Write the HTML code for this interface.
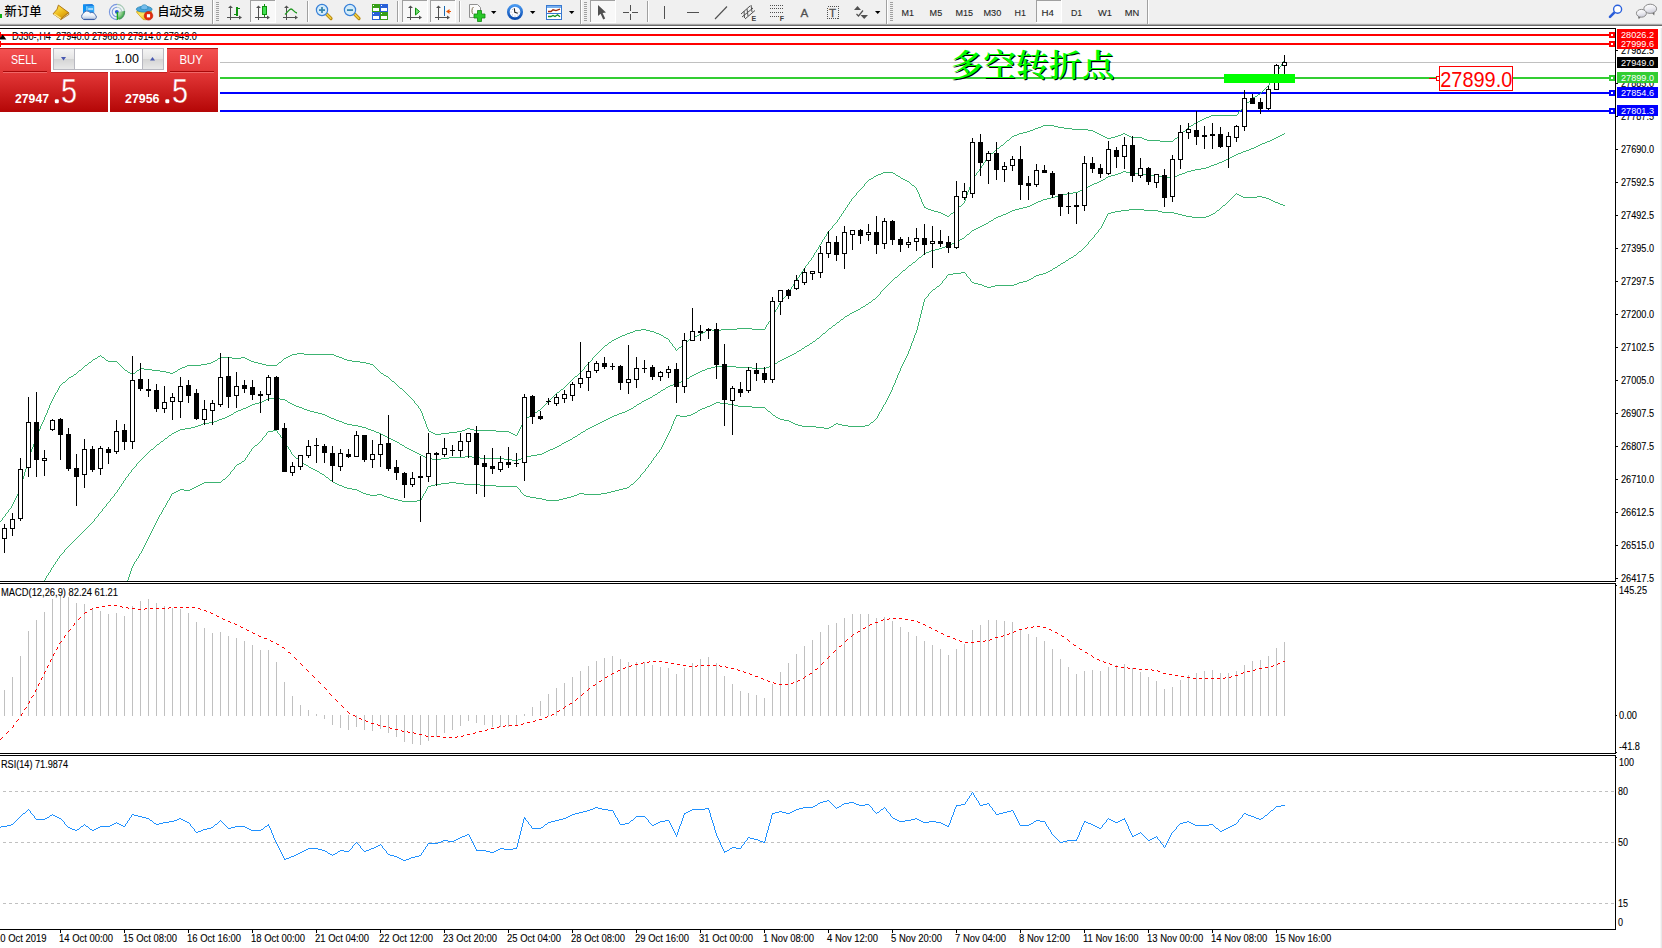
<!DOCTYPE html>
<html><head><meta charset="utf-8"><title>DJ30 H4</title>
<style>html,body{margin:0;padding:0;background:#fff;overflow:hidden}body{width:1662px;height:948px;position:relative}</style>
</head><body>
<svg width="1662" height="948" viewBox="0 0 1662 948" style="position:absolute;left:0;top:0">
<defs>
<linearGradient id="gs" gradientUnits="userSpaceOnUse" x1="0" y1="48" x2="0" y2="112"><stop offset="0" stop-color="#f45252"/><stop offset="0.45" stop-color="#de3232"/><stop offset="1" stop-color="#b40606"/></linearGradient>
<linearGradient id="gb" x1="0" y1="0" x2="0" y2="1"><stop offset="0" stop-color="#f4f4f4"/><stop offset="0.5" stop-color="#e4e4e4"/><stop offset="0.5" stop-color="#d4d4d4"/><stop offset="1" stop-color="#e8e8e8"/></linearGradient>
<linearGradient id="gold" x1="0.2" y1="0" x2="0.8" y2="1"><stop offset="0" stop-color="#ffe858"/><stop offset="0.55" stop-color="#ecb818"/><stop offset="1" stop-color="#c88808"/></linearGradient>
<radialGradient id="gsig" gradientUnits="userSpaceOnUse" cx="117" cy="12" r="7.6"><stop offset="0" stop-color="#e0f0dc"/><stop offset="0.6" stop-color="#90cc90"/><stop offset="1" stop-color="#38a840"/></radialGradient>
<linearGradient id="gface" x1="0" y1="0" x2="0.3" y2="1"><stop offset="0" stop-color="#f4cc28"/><stop offset="0.5" stop-color="#fbe868"/><stop offset="1" stop-color="#f0c020"/></linearGradient>
<linearGradient id="gchat" x1="0" y1="0" x2="0.3" y2="1"><stop offset="0" stop-color="#ffffff"/><stop offset="0.55" stop-color="#eeeef2"/><stop offset="1" stop-color="#d0d0dc"/></linearGradient>
<linearGradient id="gcloud" x1="0" y1="0" x2="0" y2="1"><stop offset="0" stop-color="#ffffff"/><stop offset="0.5" stop-color="#f0f4fa"/><stop offset="1" stop-color="#b4c4de"/></linearGradient>
<linearGradient id="gclk" x1="0" y1="0" x2="0" y2="1"><stop offset="0" stop-color="#4898f0"/><stop offset="1" stop-color="#0c4cb0"/></linearGradient>
<linearGradient id="gblue" x1="0" y1="0" x2="0" y2="1"><stop offset="0" stop-color="#58b8f8"/><stop offset="1" stop-color="#1868d8"/></linearGradient>
<linearGradient id="ggreen" x1="0" y1="0" x2="0" y2="1"><stop offset="0" stop-color="#60e060"/><stop offset="1" stop-color="#10a010"/></linearGradient>
<clipPath id="cpMain"><rect x="0" y="29" width="1615" height="552"/></clipPath>
</defs>
<rect x="0" y="0" width="1662" height="948" fill="#fff"/>
<g shape-rendering="crispEdges">
<rect x="1660" y="26" width="1" height="922" fill="#f6f6f6"/><rect x="1661" y="26" width="1" height="922" fill="#e8e8e8"/>
<rect x="0" y="28" width="1616" height="1" fill="#000"/>
<rect x="1615" y="28" width="1" height="902" fill="#000"/>
<rect x="0" y="581" width="1616" height="1" fill="#000"/>
<rect x="0" y="583" width="1616" height="1" fill="#000"/>
<rect x="0" y="753" width="1616" height="1" fill="#000"/>
<rect x="0" y="755" width="1616" height="1" fill="#000"/>
<rect x="0" y="582" width="1616" height="1" fill="#fff"/><rect x="0" y="754" width="1616" height="1" fill="#fff"/>
<rect x="0" y="929" width="1616" height="1" fill="#000"/>
<rect x="60" y="929" width="1" height="4" fill="#000"/>
<rect x="124" y="929" width="1" height="4" fill="#000"/>
<rect x="188" y="929" width="1" height="4" fill="#000"/>
<rect x="252" y="929" width="1" height="4" fill="#000"/>
<rect x="316" y="929" width="1" height="4" fill="#000"/>
<rect x="380" y="929" width="1" height="4" fill="#000"/>
<rect x="444" y="929" width="1" height="4" fill="#000"/>
<rect x="508" y="929" width="1" height="4" fill="#000"/>
<rect x="572" y="929" width="1" height="4" fill="#000"/>
<rect x="636" y="929" width="1" height="4" fill="#000"/>
<rect x="700" y="929" width="1" height="4" fill="#000"/>
<rect x="764" y="929" width="1" height="4" fill="#000"/>
<rect x="828" y="929" width="1" height="4" fill="#000"/>
<rect x="892" y="929" width="1" height="4" fill="#000"/>
<rect x="956" y="929" width="1" height="4" fill="#000"/>
<rect x="1020" y="929" width="1" height="4" fill="#000"/>
<rect x="1084" y="929" width="1" height="4" fill="#000"/>
<rect x="1148" y="929" width="1" height="4" fill="#000"/>
<rect x="1212" y="929" width="1" height="4" fill="#000"/>
<rect x="1276" y="929" width="1" height="4" fill="#000"/>
</g>
<g shape-rendering="crispEdges">
<rect x="220" y="62" width="1395" height="1" fill="#c0c0c0"/>
<rect x="220" y="77" width="1395" height="2" fill="#32cd32"/>
<rect x="220" y="92" width="1395" height="2" fill="#0000ff"/>
<rect x="220" y="110" width="1395" height="2" fill="#0000ff"/>
</g>
<g clip-path="url(#cpMain)" stroke-width="1">
<path d="M0 521.5h1M1 520.5h1M2.5 518v2M3 517.5h1M4 516.5h1M5.5 514v2M6 513.5h1M7 512.5h1M8.5 510v2M9 509.5h1M10 508.5h1M11.5 506v2M12.5 504v2M13.5 502v2M14.5 500v2M15.5 498v2M16.5 496v2M17.5 494v2M18.5 492v2M19.5 490v2M20.5 487v3M21.5 483v4M22.5 479v4M23.5 476v3M24.5 472v4M25.5 469v3M26.5 465v4M27.5 461v4M28.5 458v3M29.5 455v3M30.5 452v3M31.5 449v3M32.5 447v2M33.5 444v3M34.5 441v3M35.5 438v3M36.5 435v3M37.5 433v2M38.5 431v2M39.5 429v2M40.5 426v3M41.5 424v2M42.5 422v2M43.5 420v2M44.5 417v3M45.5 415v2M46.5 413v2M47.5 410v3M48.5 408v2M49.5 405v3M50.5 403v2M51.5 401v2M52.5 399v2M53.5 397v2M54.5 395v2M55.5 393v2M56 392.5h1M57.5 390v2M58.5 388v2M59.5 386v2M60 385.5h1M61 384.5h1M62 383.5h1M63 382.5h2M65 381.5h1M66 380.5h1M67 379.5h1M68 378.5h1M69 377.5h2M71 376.5h2M73 375.5h1M74 374.5h2M76 373.5h1M77 372.5h1M78 371.5h1M79 370.5h2M81 369.5h1M82 368.5h1M83 367.5h1M84 366.5h1M85 365.5h2M87 364.5h1M88 363.5h1M89 362.5h2M91 361.5h1M92 360.5h1M93 359.5h2M95 358.5h2M97 357.5h1M98 356.5h2M100 355.5h1M101 356.5h1M102 357.5h2M104 358.5h1M105 359.5h1M106 360.5h2M108 361.5h9M117 362.5h1M118 363.5h1M119 364.5h1M120 365.5h1M121 366.5h1M122 367.5h1M123 368.5h1M124 369.5h1M125 370.5h2M127 371.5h1M128 372.5h2M130 373.5h2M132 374.5h1M133 373.5h2M135 372.5h1M136 371.5h1M137 370.5h2M139 369.5h1M140 368.5h4M144 369.5h8M152 370.5h8M160 371.5h6M166 372.5h4M170 373.5h3M173 372.5h2M175 371.5h2M177 370.5h1M178 369.5h2M180 368.5h2M182 367.5h3M185 366.5h2M187 365.5h14M201 364.5h6M207 363.5h4M211 362.5h2M213 361.5h2M215 360.5h2M217 359.5h1M218 358.5h2M220 357.5h12M232 358.5h9M241 357.5h4M245 358.5h2M247 359.5h2M249 360.5h2M251 361.5h3M254 362.5h4M258 363.5h4M262 364.5h4M266 365.5h11M277 364.5h1M278 363.5h1M279 362.5h2M281 361.5h1M282 360.5h1M283 359.5h1M284 358.5h2M286 357.5h2M288 356.5h2M290 355.5h2M292 354.5h5M297 353.5h7M304 354.5h30M334 355.5h2M336 356.5h3M339 357.5h3M342 358.5h2M344 359.5h3M347 360.5h5M352 361.5h8M360 362.5h6M366 363.5h4M370 364.5h3M373 365.5h1M374 366.5h1M375 367.5h1M376 368.5h1M377 369.5h1M378 370.5h1M379 371.5h1M380 372.5h1M381 373.5h2M383 374.5h1M384 375.5h2M386 376.5h2M388 377.5h1M389 378.5h1M390 379.5h1M391 380.5h1M392 381.5h2M394 382.5h1M395 383.5h1M396 384.5h1M397 385.5h1M398 386.5h1M399 387.5h1M400 388.5h2M402 389.5h1M403 390.5h1M404 391.5h1M405 392.5h1M406 393.5h1M407 394.5h1M408 395.5h1M409 396.5h1M410 397.5h1M411 398.5h1M412 399.5h1M413 400.5h1M414.5 401v2M415 403.5h1M416 404.5h1M417 405.5h1M418.5 406v2M419 408.5h1M420.5 409v2M421.5 411v2M422.5 413v3M423.5 416v3M424.5 419v2M425.5 421v3M426.5 424v3M427.5 427v2M428.5 429v2M429 431.5h2M431 432.5h2M433 433.5h2M435 434.5h6M441 433.5h8M449 432.5h8M457 431.5h5M462 430.5h3M465 429.5h2M467 428.5h3M470 429.5h4M474 430.5h22M496 431.5h13M509 432.5h2M511 433.5h2M513 434.5h2M515 435.5h2M517.5 433v2M518.5 431v2M519.5 429v2M520.5 427v2M521.5 425v2M522.5 423v2M523.5 421v2M524.5 419v2M525 418.5h2M527 417.5h2M529 416.5h1M530 415.5h2M532 414.5h1M533 413.5h2M535 412.5h2M537 411.5h1M538 410.5h2M540 409.5h1M541 408.5h1M542 407.5h1M543 406.5h1M544 405.5h1M545 404.5h1M546 403.5h1M547 402.5h1M548 401.5h1M549 400.5h1M550 399.5h1M551 398.5h1M552 397.5h1M553 396.5h1M554 395.5h1M555 394.5h1M556 393.5h1M557 392.5h2M559 391.5h1M560 390.5h1M561 389.5h2M563 388.5h1M564 387.5h1M565 386.5h1M566 385.5h1M567 384.5h1M568 383.5h1M569 382.5h1M570 381.5h1M571 380.5h1M572 379.5h1M573 378.5h1M574 377.5h1M575 376.5h2M577 375.5h1M578 374.5h1M579 373.5h1M580 372.5h1M581 371.5h1M582 370.5h1M583 369.5h1M584.5 367v2M585 366.5h1M586 365.5h1M587 364.5h1M588 363.5h1M589 362.5h1M590 361.5h1M591 360.5h1M592.5 358v2M593 357.5h1M594 356.5h1M595 355.5h1M596 354.5h1M597 353.5h1M598 352.5h1M599 351.5h1M600 350.5h1M601 349.5h1M602 348.5h1M603 347.5h1M604 346.5h1M605 345.5h2M607 344.5h1M608 343.5h1M609 342.5h2M611 341.5h1M612 340.5h2M614 339.5h2M616 338.5h2M618 337.5h2M620 336.5h2M622 335.5h3M625 334.5h2M627 333.5h3M630 332.5h3M633 331.5h2M635 330.5h6M641 329.5h5M646 330.5h4M650 331.5h4M654 332.5h2M656 333.5h3M659 334.5h2M661 335.5h2M663 336.5h1M664 337.5h2M666 338.5h2M668 339.5h1M669.5 340v2M670 342.5h1M671 343.5h1M672.5 344v2M673 346.5h1M674 347.5h1M675.5 348v2M676 350.5h1M677 349.5h1M678 348.5h1M679 347.5h2M681 346.5h1M682 345.5h1M683 344.5h1M684 343.5h1M685 342.5h2M687 341.5h1M688 340.5h1M689 339.5h2M691 338.5h1M692 337.5h2M694 336.5h3M697 335.5h2M699 334.5h2M701 333.5h2M703 332.5h2M705 331.5h1M706 330.5h2M708 329.5h4M712 330.5h9M721 329.5h16M737 328.5h15M752 329.5h13M765.5 327v2M766.5 325v2M767 324.5h1M768.5 322v2M769 321.5h1M770.5 319v2M771.5 317v2M772 316.5h1M773.5 314v2M774.5 312v2M775.5 310v2M776 309.5h1M777.5 307v2M778.5 305v2M779.5 303v2M780 302.5h1M781 301.5h1M782.5 299v2M783 298.5h1M784 297.5h1M785 296.5h1M786.5 294v2M787 293.5h1M788 292.5h1M789.5 290v2M790 289.5h1M791.5 287v2M792 286.5h1M793.5 284v2M794 283.5h1M795.5 281v2M796 280.5h1M797.5 278v2M798 277.5h1M799.5 275v2M800 274.5h1M801.5 272v2M802 271.5h1M803.5 269v2M804 268.5h1M805.5 266v2M806 265.5h1M807 264.5h1M808.5 262v2M809 261.5h1M810 260.5h1M811.5 258v2M812 257.5h1M813.5 255v2M814.5 253v2M815 252.5h1M816.5 250v2M817 249.5h1M818.5 247v2M819.5 245v2M820 244.5h1M821.5 242v2M822.5 240v2M823 239.5h1M824.5 237v2M825 236.5h1M826.5 234v2M827.5 232v2M828 231.5h1M829 230.5h1M830 229.5h1M831 228.5h1M832.5 226v2M833 225.5h1M834 224.5h1M835 223.5h1M836 222.5h1M837.5 220v2M838 219.5h1M839.5 217v2M840 216.5h1M841.5 214v2M842 213.5h1M843.5 211v2M844 210.5h1M845.5 208v2M846 207.5h1M847.5 205v2M848 204.5h1M849.5 202v2M850 201.5h1M851.5 199v2M852 198.5h1M853 197.5h1M854 196.5h1M855 195.5h1M856.5 193v2M857 192.5h1M858 191.5h1M859 190.5h1M860 189.5h1M861 188.5h1M862 187.5h1M863 186.5h1M864.5 184v2M865 183.5h1M866 182.5h1M867 181.5h1M868 180.5h1M869 179.5h2M871 178.5h2M873 177.5h1M874 176.5h2M876 175.5h2M878 174.5h3M881 173.5h2M883 172.5h10M893 173.5h2M895 174.5h1M896 175.5h2M898 176.5h2M900 177.5h1M901 178.5h2M903 179.5h2M905 180.5h2M907 181.5h2M909 182.5h1M910 183.5h1M911 184.5h1M912 185.5h2M914 186.5h1M915 187.5h1M916.5 188v2M917.5 190v2M918.5 192v2M919.5 194v3M920.5 197v2M921.5 199v3M922.5 202v2M923.5 204v2M924.5 206v2M925 207.5h1M926 208.5h2M928 209.5h3M931 210.5h3M934 211.5h4M938 212.5h3M941 213.5h2M943 214.5h2M945 215.5h2M947 216.5h2M949 215.5h1M950 214.5h1M951 213.5h2M953 212.5h1M954 211.5h1M955 210.5h1M956 209.5h1M957 208.5h1M958 207.5h1M959 206.5h2M961 205.5h1M962 204.5h1M963 203.5h1M964.5 201v2M965.5 198v3M966.5 195v3M967.5 192v3M968.5 190v2M969.5 187v3M970.5 184v3M971.5 181v3M972.5 179v2M973.5 177v2M974 176.5h1M975 175.5h1M976.5 173v2M977 172.5h1M978 171.5h1M979.5 169v2M980 168.5h1M981.5 166v2M982 165.5h1M983.5 163v2M984 162.5h1M985.5 160v2M986 159.5h1M987.5 157v2M988 156.5h1M989 155.5h1M990 154.5h1M991 153.5h2M993 152.5h1M994 151.5h1M995 150.5h1M996 149.5h1M997 148.5h2M999 147.5h1M1000 146.5h1M1001 145.5h2M1003 144.5h1M1004 143.5h1M1005 142.5h1M1006 141.5h1M1007 140.5h2M1009 139.5h1M1010 138.5h1M1011 137.5h1M1012 136.5h2M1014 135.5h3M1017 134.5h2M1019 133.5h4M1023 132.5h4M1027 131.5h3M1030 130.5h3M1033 129.5h2M1035 128.5h3M1038 127.5h3M1041 126.5h2M1043 125.5h11M1054 126.5h4M1058 127.5h6M1064 128.5h8M1072 129.5h16M1088 130.5h5M1093 131.5h2M1095 132.5h2M1097 133.5h2M1099 134.5h2M1101 135.5h2M1103 136.5h2M1105 137.5h2M1107 138.5h4M1111 137.5h4M1115 136.5h3M1118 135.5h3M1121 134.5h2M1123 133.5h2M1125 134.5h2M1127 135.5h2M1129 136.5h2M1131 137.5h11M1142 138.5h2M1144 139.5h3M1147 140.5h13M1160 141.5h13M1173 140.5h1M1174 139.5h1M1175 138.5h2M1177 137.5h1M1178 136.5h1M1179 135.5h1M1180 134.5h1M1181 133.5h1M1182 132.5h1M1183 131.5h2M1185 130.5h1M1186 129.5h1M1187 128.5h1M1188 127.5h1M1189 126.5h2M1191 125.5h2M1193 124.5h1M1194 123.5h2M1196 122.5h2M1198 121.5h2M1200 120.5h2M1202 119.5h2M1204 118.5h2M1206 117.5h3M1209 116.5h2M1211 115.5h26M1237 114.5h1M1238.5 112v2M1239 111.5h1M1240 110.5h1M1241 109.5h1M1242.5 107v2M1243 106.5h1M1244 105.5h1M1245 104.5h1M1246 103.5h1M1247 102.5h2M1249 101.5h1M1250 100.5h1M1251 99.5h1M1252 98.5h1M1253 97.5h2M1255 96.5h2M1257 95.5h1M1258 94.5h2M1260 93.5h1M1261 92.5h1M1262 91.5h1M1263 90.5h1M1264 89.5h1M1265 88.5h1M1266 87.5h1M1267 86.5h1M1268 85.5h1M1269.5 83v2M1270.5 81v2M1271 80.5h1M1272.5 78v2M1273 77.5h1M1274.5 75v2M1275.5 73v2M1276 72.5h1M1277.5 70v2M1278 69.5h1M1279.5 67v2M1280 66.5h1M1281.5 64v2M1282 63.5h1M1283.5 61v2M1284 60.5h1" fill="none" stroke="#3cb371" stroke-width="1" shape-rendering="crispEdges" />
<path d="M44 580.5h1M45.5 578v2M46.5 576v2M47 575.5h1M48.5 573v2M49 572.5h1M50.5 570v2M51.5 568v2M52 567.5h1M53.5 565v2M54 564.5h1M55.5 562v2M56 561.5h1M57.5 559v2M58 558.5h1M59.5 556v2M60 555.5h1M61 554.5h1M62 553.5h1M63 552.5h1M64.5 550v2M65 549.5h1M66 548.5h1M67 547.5h1M68 546.5h1M69 545.5h1M70 544.5h1M71 543.5h1M72 542.5h1M73 541.5h1M74 540.5h1M75 539.5h1M76 538.5h1M77 537.5h1M78 536.5h1M79 535.5h1M80 534.5h1M81 533.5h1M82 532.5h1M83 531.5h1M84 530.5h1M85 529.5h1M86 528.5h1M87 527.5h1M88 526.5h1M89 525.5h1M90 524.5h1M91 523.5h1M92 522.5h1M93 521.5h1M94.5 519v2M95 518.5h1M96 517.5h1M97 516.5h1M98.5 514v2M99 513.5h1M100 512.5h1M101 511.5h1M102.5 509v2M103 508.5h1M104 507.5h1M105 506.5h1M106.5 504v2M107 503.5h1M108 502.5h1M109 501.5h1M110.5 499v2M111 498.5h1M112 497.5h1M113 496.5h1M114.5 494v2M115 493.5h1M116 492.5h1M117.5 490v2M118 489.5h1M119.5 487v2M120 486.5h1M121.5 484v2M122 483.5h1M123.5 481v2M124 480.5h1M125.5 478v2M126 477.5h1M127 476.5h1M128.5 474v2M129 473.5h1M130 472.5h1M131.5 470v2M132 469.5h1M133 468.5h1M134 467.5h1M135 466.5h1M136.5 464v2M137 463.5h1M138 462.5h1M139 461.5h1M140 460.5h1M141 459.5h1M142 458.5h1M143 457.5h1M144 456.5h1M145 455.5h1M146 454.5h1M147 453.5h1M148 452.5h1M149 451.5h1M150 450.5h1M151 449.5h2M153 448.5h1M154 447.5h1M155 446.5h1M156 445.5h1M157 444.5h2M159 443.5h1M160 442.5h1M161 441.5h2M163 440.5h1M164 439.5h1M165 438.5h2M167 437.5h1M168 436.5h1M169 435.5h2M171 434.5h1M172 433.5h2M174 432.5h2M176 431.5h2M178 430.5h2M180 429.5h5M185 428.5h6M191 427.5h4M195 426.5h3M198 425.5h3M201 424.5h2M203 423.5h6M209 422.5h5M214 421.5h3M217 420.5h2M219 419.5h3M222 418.5h3M225 417.5h2M227 416.5h2M229 415.5h2M231 414.5h2M233 413.5h1M234 412.5h2M236 411.5h2M238 410.5h3M241 409.5h2M243 408.5h3M246 407.5h2M248 406.5h2M250 405.5h2M252 404.5h3M255 403.5h4M259 402.5h3M262 401.5h2M264 400.5h2M266 399.5h2M268 398.5h12M280 399.5h5M285 400.5h2M287 401.5h1M288 402.5h2M290 403.5h2M292 404.5h2M294 405.5h2M296 406.5h3M299 407.5h3M302 408.5h2M304 409.5h3M307 410.5h3M310 411.5h4M314 412.5h4M318 413.5h4M322 414.5h3M325 415.5h2M327 416.5h2M329 417.5h2M331 418.5h3M334 419.5h2M336 420.5h3M339 421.5h3M342 422.5h2M344 423.5h3M347 424.5h5M352 425.5h6M358 426.5h4M362 427.5h4M366 428.5h2M368 429.5h3M371 430.5h3M374 431.5h2M376 432.5h3M379 433.5h2M381 434.5h2M383 435.5h2M385 436.5h2M387 437.5h2M389 438.5h2M391 439.5h2M393 440.5h2M395 441.5h2M397 442.5h2M399 443.5h1M400 444.5h2M402 445.5h2M404 446.5h1M405 447.5h2M407 448.5h2M409 449.5h2M411 450.5h2M413 451.5h2M415 452.5h2M417 453.5h2M419 454.5h2M421 455.5h2M423 456.5h2M425 457.5h2M427 458.5h5M432 459.5h9M441 458.5h8M449 457.5h16M465 456.5h7M472 457.5h8M480 458.5h24M504 459.5h8M512 460.5h6M518 459.5h3M521 458.5h2M523 457.5h4M527 456.5h4M531 455.5h6M537 454.5h5M542 453.5h2M544 452.5h2M546 451.5h2M548 450.5h2M550 449.5h3M553 448.5h2M555 447.5h2M557 446.5h2M559 445.5h2M561 444.5h1M562 443.5h2M564 442.5h2M566 441.5h2M568 440.5h2M570 439.5h2M572 438.5h1M573 437.5h2M575 436.5h2M577 435.5h1M578 434.5h2M580 433.5h1M581 432.5h2M583 431.5h2M585 430.5h1M586 429.5h2M588 428.5h2M590 427.5h2M592 426.5h2M594 425.5h2M596 424.5h2M598 423.5h2M600 422.5h2M602 421.5h2M604 420.5h2M606 419.5h2M608 418.5h2M610 417.5h2M612 416.5h2M614 415.5h3M617 414.5h2M619 413.5h3M622 412.5h3M625 411.5h2M627 410.5h2M629 409.5h2M631 408.5h2M633 407.5h1M634 406.5h2M636 405.5h1M637 404.5h2M639 403.5h2M641 402.5h1M642 401.5h2M644 400.5h2M646 399.5h2M648 398.5h2M650 397.5h2M652 396.5h1M653 395.5h2M655 394.5h2M657 393.5h1M658 392.5h2M660 391.5h1M661 390.5h2M663 389.5h2M665 388.5h1M666 387.5h2M668 386.5h2M670 385.5h3M673 384.5h2M675 383.5h3M678 382.5h3M681 381.5h2M683 380.5h2M685 379.5h2M687 378.5h2M689 377.5h1M690 376.5h2M692 375.5h2M694 374.5h2M696 373.5h2M698 372.5h2M700 371.5h2M702 370.5h3M705 369.5h2M707 368.5h4M711 367.5h4M715 366.5h21M736 367.5h16M752 368.5h14M766 367.5h3M769 366.5h2M771 365.5h2M773 364.5h2M775 363.5h2M777 362.5h1M778 361.5h2M780 360.5h2M782 359.5h2M784 358.5h2M786 357.5h2M788 356.5h2M790 355.5h2M792 354.5h2M794 353.5h2M796 352.5h1M797 351.5h2M799 350.5h2M801 349.5h1M802 348.5h2M804 347.5h1M805 346.5h2M807 345.5h2M809 344.5h1M810 343.5h2M812 342.5h1M813 341.5h2M815 340.5h1M816 339.5h1M817 338.5h2M819 337.5h1M820 336.5h1M821 335.5h1M822 334.5h1M823 333.5h2M825 332.5h1M826 331.5h1M827 330.5h1M828 329.5h1M829 328.5h2M831 327.5h1M832 326.5h1M833 325.5h2M835 324.5h1M836 323.5h1M837 322.5h2M839 321.5h1M840 320.5h1M841 319.5h2M843 318.5h1M844 317.5h1M845 316.5h2M847 315.5h2M849 314.5h1M850 313.5h2M852 312.5h2M854 311.5h2M856 310.5h2M858 309.5h2M860 308.5h1M861 307.5h2M863 306.5h2M865 305.5h1M866 304.5h2M868 303.5h1M869 302.5h2M871 301.5h1M872 300.5h1M873 299.5h2M875 298.5h1M876 297.5h1M877 296.5h1M878 295.5h1M879 294.5h1M880.5 292v2M881 291.5h1M882 290.5h1M883 289.5h1M884 288.5h1M885 287.5h1M886 286.5h1M887 285.5h1M888 284.5h1M889 283.5h1M890 282.5h1M891 281.5h1M892 280.5h1M893 279.5h1M894 278.5h1M895 277.5h2M897 276.5h1M898 275.5h1M899 274.5h1M900 273.5h1M901 272.5h1M902 271.5h1M903 270.5h2M905 269.5h1M906 268.5h1M907 267.5h1M908 266.5h1M909 265.5h2M911 264.5h1M912 263.5h1M913 262.5h2M915 261.5h1M916 260.5h1M917 259.5h1M918 258.5h1M919 257.5h2M921 256.5h1M922 255.5h1M923 254.5h1M924 253.5h2M926 252.5h3M929 251.5h2M931 250.5h4M935 249.5h4M939 248.5h3M942 247.5h3M945 246.5h2M947 245.5h3M950 244.5h2M952 243.5h2M954 242.5h2M956 241.5h2M958 240.5h2M960 239.5h2M962 238.5h2M964 237.5h1M965 236.5h1M966 235.5h1M967 234.5h2M969 233.5h1M970 232.5h1M971 231.5h1M972 230.5h2M974 229.5h2M976 228.5h2M978 227.5h2M980 226.5h2M982 225.5h2M984 224.5h2M986 223.5h2M988 222.5h1M989 221.5h2M991 220.5h2M993 219.5h1M994 218.5h2M996 217.5h2M998 216.5h3M1001 215.5h2M1003 214.5h3M1006 213.5h2M1008 212.5h2M1010 211.5h2M1012 210.5h3M1015 209.5h4M1019 208.5h4M1023 207.5h4M1027 206.5h3M1030 205.5h2M1032 204.5h2M1034 203.5h2M1036 202.5h2M1038 201.5h3M1041 200.5h2M1043 199.5h4M1047 198.5h4M1051 197.5h4M1055 196.5h4M1059 195.5h4M1063 194.5h4M1067 193.5h6M1073 192.5h5M1078 191.5h2M1080 190.5h2M1082 189.5h2M1084 188.5h2M1086 187.5h2M1088 186.5h2M1090 185.5h2M1092 184.5h2M1094 183.5h3M1097 182.5h2M1099 181.5h2M1101 180.5h2M1103 179.5h2M1105 178.5h1M1106 177.5h2M1108 176.5h3M1111 175.5h4M1115 174.5h3M1118 173.5h3M1121 172.5h2M1123 171.5h3M1126 172.5h4M1130 173.5h12M1142 174.5h4M1146 175.5h12M1158 176.5h4M1162 177.5h12M1174 176.5h3M1177 175.5h2M1179 174.5h3M1182 173.5h3M1185 172.5h2M1187 171.5h4M1191 170.5h4M1195 169.5h6M1201 168.5h5M1206 167.5h3M1209 166.5h2M1211 165.5h3M1214 164.5h3M1217 163.5h2M1219 162.5h3M1222 161.5h2M1224 160.5h2M1226 159.5h2M1228 158.5h2M1230 157.5h2M1232 156.5h2M1234 155.5h2M1236 154.5h2M1238 153.5h3M1241 152.5h2M1243 151.5h3M1246 150.5h3M1249 149.5h2M1251 148.5h3M1254 147.5h2M1256 146.5h2M1258 145.5h2M1260 144.5h2M1262 143.5h3M1265 142.5h2M1267 141.5h3M1270 140.5h2M1272 139.5h2M1274 138.5h2M1276 137.5h2M1278 136.5h2M1280 135.5h2M1282 134.5h2M1284 133.5h1" fill="none" stroke="#3cb371" stroke-width="1" shape-rendering="crispEdges" />
<path d="M127 580.5h1M128.5 577v3M129.5 574v3M130.5 571v3M131.5 568v3M132.5 566v2M133.5 564v2M134.5 562v2M135 561.5h1M136.5 559v2M137 558.5h1M138.5 556v2M139.5 554v2M140 553.5h1M141.5 551v2M142.5 549v2M143.5 547v2M144.5 545v2M145.5 543v2M146.5 541v2M147.5 539v2M148.5 537v2M149.5 535v2M150.5 533v2M151.5 531v2M152.5 529v2M153.5 527v2M154.5 525v2M155.5 523v2M156.5 521v2M157.5 519v2M158.5 517v2M159.5 515v2M160 514.5h1M161.5 512v2M162.5 510v2M163.5 508v2M164 507.5h1M165.5 505v2M166.5 503v2M167.5 501v2M168 500.5h1M169.5 498v2M170.5 496v2M171.5 494v2M172 493.5h2M174 492.5h2M176 491.5h2M178 490.5h2M180 489.5h4M184 490.5h6M190 489.5h2M192 488.5h2M194 487.5h2M196 486.5h2M198 485.5h2M200 484.5h2M202 483.5h2M204 482.5h17M221 481.5h1M222 480.5h1M223 479.5h2M225 478.5h1M226 477.5h1M227 476.5h1M228 475.5h1M229 474.5h1M230.5 472v2M231 471.5h1M232 470.5h1M233 469.5h1M234.5 467v2M235 466.5h1M236 465.5h1M237 464.5h2M239 463.5h2M241 462.5h1M242 461.5h2M244 460.5h1M245.5 458v2M246 457.5h1M247.5 455v2M248 454.5h1M249.5 452v2M250 451.5h1M251.5 449v2M252 448.5h1M253 447.5h1M254 446.5h1M255 445.5h2M257 444.5h1M258 443.5h1M259 442.5h1M260 441.5h1M261 440.5h1M262.5 438v2M263 437.5h1M264 436.5h1M265 435.5h1M266.5 433v2M267 432.5h1M268 431.5h5M273 430.5h4M277.5 431v2M278 433.5h1M279 434.5h1M280.5 435v2M281 437.5h1M282 438.5h1M283.5 439v2M284 441.5h1M285.5 442v2M286.5 444v2M287 446.5h1M288.5 447v2M289 449.5h1M290.5 450v2M291.5 452v2M292 454.5h1M293 455.5h1M294 456.5h1M295 457.5h1M296 458.5h2M298 459.5h1M299 460.5h1M300 461.5h1M301 462.5h2M303 463.5h1M304 464.5h2M306 465.5h2M308 466.5h1M309 467.5h2M311 468.5h2M313 469.5h2M315 470.5h2M317 471.5h2M319 472.5h1M320 473.5h2M322 474.5h2M324 475.5h1M325 476.5h1M326 477.5h2M328 478.5h1M329 479.5h1M330 480.5h2M332 481.5h1M333 482.5h2M335 483.5h2M337 484.5h2M339 485.5h3M342 486.5h2M344 487.5h3M347 488.5h5M352 489.5h5M357 490.5h2M359 491.5h2M361 492.5h2M363 493.5h3M366 494.5h4M370 495.5h7M377 494.5h5M382 495.5h2M384 496.5h3M387 497.5h3M390 498.5h4M394 499.5h4M398 500.5h4M402 501.5h15M417 500.5h4M421.5 498v2M422.5 496v2M423.5 494v2M424 493.5h1M425.5 491v2M426.5 489v2M427.5 487v2M428 486.5h3M431 485.5h4M435 484.5h6M441 483.5h8M449 482.5h7M456 483.5h8M464 484.5h16M480 485.5h16M496 486.5h21M517 487.5h1M518 488.5h1M519 489.5h1M520.5 490v2M521 492.5h1M522 493.5h1M523 494.5h1M524 495.5h2M526 496.5h4M530 497.5h6M536 498.5h6M542 499.5h4M546 500.5h13M559 499.5h4M563 498.5h4M567 497.5h4M571 496.5h3M574 495.5h3M577 494.5h2M579 493.5h5M584 494.5h17M601 493.5h6M607 492.5h4M611 491.5h4M615 490.5h4M619 489.5h4M623 488.5h4M627 487.5h2M629 486.5h1M630 485.5h1M631 484.5h2M633 483.5h1M634 482.5h1M635 481.5h1M636 480.5h1M637 479.5h1M638 478.5h1M639 477.5h1M640.5 475v2M641 474.5h1M642 473.5h1M643 472.5h1M644 471.5h1M645.5 469v2M646 468.5h1M647 467.5h1M648.5 465v2M649 464.5h1M650 463.5h1M651.5 461v2M652 460.5h1M653.5 458v2M654 457.5h1M655 456.5h1M656.5 454v2M657 453.5h1M658 452.5h1M659.5 450v2M660 449.5h1M661.5 447v2M662.5 445v2M663.5 443v2M664.5 441v2M665.5 439v2M666.5 437v2M667.5 435v2M668.5 433v2M669.5 431v2M670.5 429v2M671.5 426v3M672.5 424v2M673.5 421v3M674.5 419v2M675.5 417v2M676.5 415v2M677 415.5h3M680 416.5h7M687 415.5h4M691 414.5h2M693 413.5h2M695 412.5h2M697 411.5h1M698 410.5h2M700 409.5h2M702 408.5h3M705 407.5h2M707 406.5h3M710 405.5h2M712 404.5h2M714 403.5h2M716 402.5h4M720 403.5h8M728 404.5h6M734 405.5h4M738 406.5h14M752 407.5h13M765 408.5h1M766 409.5h1M767 410.5h1M768 411.5h2M770 412.5h1M771 413.5h1M772 414.5h1M773 415.5h2M775 416.5h1M776 417.5h2M778 418.5h2M780 419.5h4M784 420.5h5M789 421.5h2M791 422.5h2M793 423.5h2M795 424.5h3M798 425.5h4M802 426.5h14M816 427.5h8M824 428.5h5M829 427.5h2M831 426.5h2M833 425.5h1M834 424.5h2M836 423.5h2M838 424.5h4M842 425.5h6M848 426.5h17M865 425.5h4M869 424.5h1M870 423.5h1M871 422.5h2M873 421.5h1M874 420.5h1M875 419.5h1M876 418.5h1M877.5 416v2M878.5 414v2M879.5 412v2M880 411.5h1M881.5 409v2M882.5 407v2M883.5 405v2M884 404.5h1M885.5 402v2M886.5 400v2M887.5 398v2M888.5 396v2M889.5 394v2M890.5 392v2M891.5 390v2M892.5 387v3M893.5 385v2M894.5 383v2M895.5 380v3M896.5 378v2M897.5 375v3M898.5 373v2M899.5 371v2M900.5 368v3M901.5 366v2M902.5 364v2M903.5 362v2M904.5 360v2M905.5 358v2M906.5 356v2M907.5 354v2M908.5 351v3M909.5 349v2M910.5 346v3M911.5 343v3M912.5 341v2M913.5 338v3M914.5 335v3M915.5 333v2M916.5 330v3M917.5 326v4M918.5 322v4M919.5 318v4M920.5 314v4M921.5 310v4M922.5 306v4M923.5 302v4M924.5 299v3M925 298.5h1M926 297.5h1M927 296.5h1M928.5 294v2M929 293.5h1M930 292.5h1M931 291.5h1M932 290.5h1M933 289.5h2M935 288.5h1M936 287.5h1M937 286.5h2M939 285.5h1M940 284.5h1M941 283.5h1M942.5 281v2M943 280.5h1M944 279.5h1M945 278.5h1M946.5 276v2M947 275.5h1M948 274.5h5M953 273.5h8M961 272.5h4M965 273.5h1M966.5 274v2M967 276.5h1M968 277.5h1M969 278.5h1M970.5 279v2M971 281.5h1M972 282.5h2M974 283.5h4M978 284.5h4M982 285.5h2M984 286.5h3M987 287.5h4M991 286.5h4M995 285.5h19M1014 284.5h3M1017 283.5h2M1019 282.5h4M1023 281.5h4M1027 280.5h2M1029 279.5h2M1031 278.5h2M1033 277.5h1M1034 276.5h2M1036 275.5h3M1039 274.5h4M1043 273.5h3M1046 272.5h2M1048 271.5h2M1050 270.5h2M1052 269.5h1M1053 268.5h2M1055 267.5h2M1057 266.5h1M1058 265.5h2M1060 264.5h1M1061 263.5h2M1063 262.5h2M1065 261.5h1M1066 260.5h2M1068 259.5h1M1069 258.5h2M1071 257.5h2M1073 256.5h1M1074 255.5h2M1076 254.5h1M1077 253.5h1M1078 252.5h1M1079 251.5h2M1081 250.5h1M1082 249.5h1M1083 248.5h1M1084 247.5h1M1085 246.5h1M1086 245.5h1M1087 244.5h1M1088.5 242v2M1089 241.5h1M1090 240.5h1M1091 239.5h1M1092 238.5h1M1093 237.5h1M1094.5 235v2M1095 234.5h1M1096 233.5h1M1097 232.5h1M1098.5 230v2M1099 229.5h1M1100 228.5h1M1101.5 226v2M1102.5 224v2M1103.5 222v2M1104.5 220v2M1105.5 218v2M1106.5 216v2M1107.5 214v2M1108 213.5h3M1111 212.5h4M1115 211.5h6M1121 210.5h8M1129 209.5h15M1144 210.5h14M1158 211.5h4M1162 212.5h12M1174 213.5h4M1178 214.5h4M1182 215.5h4M1186 216.5h6M1192 217.5h14M1206 216.5h3M1209 215.5h2M1211 214.5h2M1213 213.5h2M1215 212.5h1M1216 211.5h1M1217 210.5h2M1219 209.5h1M1220 208.5h1M1221 207.5h1M1222 206.5h1M1223 205.5h2M1225 204.5h1M1226 203.5h1M1227 202.5h1M1228 201.5h1M1229 200.5h1M1230 199.5h1M1231 198.5h1M1232 197.5h1M1233 196.5h1M1234 195.5h1M1235 194.5h1M1236 193.5h1M1237 194.5h2M1239 195.5h2M1241 196.5h2M1243 197.5h14M1257 196.5h5M1262 197.5h4M1266 198.5h3M1269 199.5h2M1271 200.5h2M1273 201.5h2M1275 202.5h3M1278 203.5h2M1280 204.5h3M1283 205.5h2" fill="none" stroke="#3cb371" stroke-width="1" shape-rendering="crispEdges" />
</g>
<g shape-rendering="crispEdges">
<rect x="4" y="524" width="1" height="29" fill="#000"/>
<rect x="2" y="528" width="5" height="11" fill="#000"/>
<rect x="3" y="529" width="3" height="9" fill="#fff"/>
<rect x="12" y="513" width="1" height="23" fill="#000"/>
<rect x="10" y="519" width="5" height="10" fill="#000"/>
<rect x="11" y="520" width="3" height="8" fill="#fff"/>
<rect x="20" y="458" width="1" height="63" fill="#000"/>
<rect x="18" y="469" width="5" height="50" fill="#000"/>
<rect x="19" y="470" width="3" height="48" fill="#fff"/>
<rect x="28" y="397" width="1" height="80" fill="#000"/>
<rect x="26" y="422" width="5" height="46" fill="#000"/>
<rect x="27" y="423" width="3" height="44" fill="#fff"/>
<rect x="36" y="392" width="1" height="85" fill="#000"/>
<rect x="34" y="422" width="5" height="38" fill="#000"/>
<rect x="44" y="450" width="1" height="26" fill="#000"/>
<rect x="42" y="458" width="5" height="3" fill="#000"/>
<rect x="43" y="459" width="3" height="1" fill="#fff"/>
<rect x="52" y="419" width="1" height="12" fill="#000"/>
<rect x="50" y="420" width="5" height="10" fill="#000"/>
<rect x="51" y="421" width="3" height="8" fill="#fff"/>
<rect x="60" y="418" width="1" height="42" fill="#000"/>
<rect x="58" y="419" width="5" height="16" fill="#000"/>
<rect x="68" y="428" width="1" height="43" fill="#000"/>
<rect x="66" y="434" width="5" height="35" fill="#000"/>
<rect x="76" y="454" width="1" height="52" fill="#000"/>
<rect x="74" y="468" width="5" height="9" fill="#000"/>
<rect x="84" y="439" width="1" height="49" fill="#000"/>
<rect x="82" y="449" width="5" height="26" fill="#000"/>
<rect x="83" y="450" width="3" height="24" fill="#fff"/>
<rect x="92" y="446" width="1" height="26" fill="#000"/>
<rect x="90" y="449" width="5" height="21" fill="#000"/>
<rect x="100" y="446" width="1" height="29" fill="#000"/>
<rect x="98" y="448" width="5" height="21" fill="#000"/>
<rect x="99" y="449" width="3" height="19" fill="#fff"/>
<rect x="108" y="447" width="1" height="17" fill="#000"/>
<rect x="106" y="449" width="5" height="4" fill="#000"/>
<rect x="116" y="420" width="1" height="34" fill="#000"/>
<rect x="114" y="431" width="5" height="21" fill="#000"/>
<rect x="115" y="432" width="3" height="19" fill="#fff"/>
<rect x="124" y="424" width="1" height="26" fill="#000"/>
<rect x="122" y="430" width="5" height="12" fill="#000"/>
<rect x="132" y="356" width="1" height="93" fill="#000"/>
<rect x="130" y="380" width="5" height="62" fill="#000"/>
<rect x="131" y="381" width="3" height="60" fill="#fff"/>
<rect x="140" y="363" width="1" height="28" fill="#000"/>
<rect x="138" y="379" width="5" height="10" fill="#000"/>
<rect x="148" y="379" width="1" height="18" fill="#000"/>
<rect x="146" y="389" width="5" height="2" fill="#000"/>
<rect x="156" y="384" width="1" height="28" fill="#000"/>
<rect x="154" y="390" width="5" height="19" fill="#000"/>
<rect x="164" y="386" width="1" height="27" fill="#000"/>
<rect x="162" y="402" width="5" height="7" fill="#000"/>
<rect x="163" y="403" width="3" height="5" fill="#fff"/>
<rect x="172" y="393" width="1" height="27" fill="#000"/>
<rect x="170" y="397" width="5" height="5" fill="#000"/>
<rect x="171" y="398" width="3" height="3" fill="#fff"/>
<rect x="180" y="377" width="1" height="41" fill="#000"/>
<rect x="178" y="386" width="5" height="16" fill="#000"/>
<rect x="179" y="387" width="3" height="14" fill="#fff"/>
<rect x="188" y="380" width="1" height="23" fill="#000"/>
<rect x="186" y="385" width="5" height="11" fill="#000"/>
<rect x="196" y="389" width="1" height="31" fill="#000"/>
<rect x="194" y="393" width="5" height="26" fill="#000"/>
<rect x="204" y="400" width="1" height="25" fill="#000"/>
<rect x="202" y="409" width="5" height="11" fill="#000"/>
<rect x="203" y="410" width="3" height="9" fill="#fff"/>
<rect x="212" y="400" width="1" height="25" fill="#000"/>
<rect x="210" y="403" width="5" height="8" fill="#000"/>
<rect x="211" y="404" width="3" height="6" fill="#fff"/>
<rect x="220" y="353" width="1" height="54" fill="#000"/>
<rect x="218" y="377" width="5" height="28" fill="#000"/>
<rect x="219" y="378" width="3" height="26" fill="#fff"/>
<rect x="228" y="357" width="1" height="51" fill="#000"/>
<rect x="226" y="376" width="5" height="21" fill="#000"/>
<rect x="236" y="372" width="1" height="36" fill="#000"/>
<rect x="234" y="386" width="5" height="10" fill="#000"/>
<rect x="235" y="387" width="3" height="8" fill="#fff"/>
<rect x="244" y="380" width="1" height="13" fill="#000"/>
<rect x="242" y="385" width="5" height="4" fill="#000"/>
<rect x="252" y="380" width="1" height="20" fill="#000"/>
<rect x="250" y="387" width="5" height="8" fill="#000"/>
<rect x="260" y="391" width="1" height="22" fill="#000"/>
<rect x="258" y="394" width="5" height="2" fill="#000"/>
<rect x="268" y="375" width="1" height="26" fill="#000"/>
<rect x="266" y="377" width="5" height="18" fill="#000"/>
<rect x="267" y="378" width="3" height="16" fill="#fff"/>
<rect x="276" y="376" width="1" height="54" fill="#000"/>
<rect x="274" y="377" width="5" height="53" fill="#000"/>
<rect x="284" y="423" width="1" height="49" fill="#000"/>
<rect x="282" y="428" width="5" height="44" fill="#000"/>
<rect x="292" y="462" width="1" height="14" fill="#000"/>
<rect x="290" y="466" width="5" height="7" fill="#000"/>
<rect x="291" y="467" width="3" height="5" fill="#fff"/>
<rect x="300" y="455" width="1" height="15" fill="#000"/>
<rect x="298" y="455" width="5" height="12" fill="#000"/>
<rect x="299" y="456" width="3" height="10" fill="#fff"/>
<rect x="308" y="440" width="1" height="18" fill="#000"/>
<rect x="306" y="446" width="5" height="10" fill="#000"/>
<rect x="307" y="447" width="3" height="8" fill="#fff"/>
<rect x="316" y="438" width="1" height="25" fill="#000"/>
<rect x="314" y="445" width="5" height="1" fill="#000"/>
<rect x="324" y="444" width="1" height="19" fill="#000"/>
<rect x="322" y="446" width="5" height="7" fill="#000"/>
<rect x="332" y="446" width="1" height="36" fill="#000"/>
<rect x="330" y="453" width="5" height="13" fill="#000"/>
<rect x="340" y="449" width="1" height="22" fill="#000"/>
<rect x="338" y="453" width="5" height="14" fill="#000"/>
<rect x="339" y="454" width="3" height="12" fill="#fff"/>
<rect x="348" y="449" width="1" height="9" fill="#000"/>
<rect x="346" y="454" width="5" height="3" fill="#000"/>
<rect x="356" y="431" width="1" height="26" fill="#000"/>
<rect x="354" y="435" width="5" height="22" fill="#000"/>
<rect x="355" y="436" width="3" height="20" fill="#fff"/>
<rect x="364" y="435" width="1" height="27" fill="#000"/>
<rect x="362" y="435" width="5" height="25" fill="#000"/>
<rect x="372" y="440" width="1" height="28" fill="#000"/>
<rect x="370" y="454" width="5" height="6" fill="#000"/>
<rect x="371" y="455" width="3" height="4" fill="#fff"/>
<rect x="380" y="434" width="1" height="33" fill="#000"/>
<rect x="378" y="444" width="5" height="11" fill="#000"/>
<rect x="379" y="445" width="3" height="9" fill="#fff"/>
<rect x="388" y="415" width="1" height="56" fill="#000"/>
<rect x="386" y="443" width="5" height="26" fill="#000"/>
<rect x="396" y="460" width="1" height="20" fill="#000"/>
<rect x="394" y="467" width="5" height="6" fill="#000"/>
<rect x="404" y="472" width="1" height="26" fill="#000"/>
<rect x="402" y="473" width="5" height="12" fill="#000"/>
<rect x="412" y="472" width="1" height="15" fill="#000"/>
<rect x="410" y="478" width="5" height="7" fill="#000"/>
<rect x="411" y="479" width="3" height="5" fill="#fff"/>
<rect x="420" y="456" width="1" height="66" fill="#000"/>
<rect x="418" y="476" width="5" height="2" fill="#000"/>
<rect x="428" y="433" width="1" height="49" fill="#000"/>
<rect x="426" y="453" width="5" height="24" fill="#000"/>
<rect x="427" y="454" width="3" height="22" fill="#fff"/>
<rect x="436" y="452" width="1" height="34" fill="#000"/>
<rect x="434" y="453" width="5" height="2" fill="#000"/>
<rect x="444" y="438" width="1" height="19" fill="#000"/>
<rect x="442" y="448" width="5" height="7" fill="#000"/>
<rect x="443" y="449" width="3" height="5" fill="#fff"/>
<rect x="452" y="445" width="1" height="11" fill="#000"/>
<rect x="450" y="450" width="5" height="1" fill="#000"/>
<rect x="460" y="433" width="1" height="24" fill="#000"/>
<rect x="458" y="441" width="5" height="10" fill="#000"/>
<rect x="459" y="442" width="3" height="8" fill="#fff"/>
<rect x="468" y="433" width="1" height="25" fill="#000"/>
<rect x="466" y="433" width="5" height="9" fill="#000"/>
<rect x="467" y="434" width="3" height="7" fill="#fff"/>
<rect x="476" y="426" width="1" height="68" fill="#000"/>
<rect x="474" y="433" width="5" height="32" fill="#000"/>
<rect x="484" y="455" width="1" height="42" fill="#000"/>
<rect x="482" y="463" width="5" height="4" fill="#000"/>
<rect x="492" y="448" width="1" height="26" fill="#000"/>
<rect x="490" y="466" width="5" height="3" fill="#000"/>
<rect x="500" y="456" width="1" height="16" fill="#000"/>
<rect x="498" y="462" width="5" height="8" fill="#000"/>
<rect x="499" y="463" width="3" height="6" fill="#fff"/>
<rect x="508" y="447" width="1" height="21" fill="#000"/>
<rect x="506" y="462" width="5" height="3" fill="#000"/>
<rect x="516" y="453" width="1" height="14" fill="#000"/>
<rect x="514" y="463" width="5" height="1" fill="#000"/>
<rect x="524" y="394" width="1" height="87" fill="#000"/>
<rect x="522" y="397" width="5" height="66" fill="#000"/>
<rect x="523" y="398" width="3" height="64" fill="#fff"/>
<rect x="532" y="395" width="1" height="29" fill="#000"/>
<rect x="530" y="396" width="5" height="21" fill="#000"/>
<rect x="540" y="411" width="1" height="9" fill="#000"/>
<rect x="538" y="416" width="5" height="3" fill="#000"/>
<rect x="548" y="398" width="1" height="7" fill="#000"/>
<rect x="546" y="401" width="5" height="1" fill="#000"/>
<rect x="556" y="394" width="1" height="12" fill="#000"/>
<rect x="554" y="397" width="5" height="7" fill="#000"/>
<rect x="555" y="398" width="3" height="5" fill="#fff"/>
<rect x="564" y="390" width="1" height="13" fill="#000"/>
<rect x="562" y="394" width="5" height="5" fill="#000"/>
<rect x="563" y="395" width="3" height="3" fill="#fff"/>
<rect x="572" y="382" width="1" height="19" fill="#000"/>
<rect x="570" y="384" width="5" height="12" fill="#000"/>
<rect x="571" y="385" width="3" height="10" fill="#fff"/>
<rect x="580" y="342" width="1" height="46" fill="#000"/>
<rect x="578" y="378" width="5" height="6" fill="#000"/>
<rect x="579" y="379" width="3" height="4" fill="#fff"/>
<rect x="588" y="362" width="1" height="29" fill="#000"/>
<rect x="586" y="371" width="5" height="7" fill="#000"/>
<rect x="587" y="372" width="3" height="5" fill="#fff"/>
<rect x="596" y="361" width="1" height="12" fill="#000"/>
<rect x="594" y="363" width="5" height="8" fill="#000"/>
<rect x="595" y="364" width="3" height="6" fill="#fff"/>
<rect x="604" y="357" width="1" height="12" fill="#000"/>
<rect x="602" y="363" width="5" height="4" fill="#000"/>
<rect x="612" y="363" width="1" height="7" fill="#000"/>
<rect x="610" y="366" width="5" height="1" fill="#000"/>
<rect x="620" y="365" width="1" height="25" fill="#000"/>
<rect x="618" y="366" width="5" height="17" fill="#000"/>
<rect x="628" y="345" width="1" height="49" fill="#000"/>
<rect x="626" y="379" width="5" height="4" fill="#000"/>
<rect x="627" y="380" width="3" height="2" fill="#fff"/>
<rect x="636" y="357" width="1" height="31" fill="#000"/>
<rect x="634" y="368" width="5" height="12" fill="#000"/>
<rect x="635" y="369" width="3" height="10" fill="#fff"/>
<rect x="644" y="360" width="1" height="13" fill="#000"/>
<rect x="642" y="368" width="5" height="1" fill="#000"/>
<rect x="652" y="365" width="1" height="15" fill="#000"/>
<rect x="650" y="367" width="5" height="10" fill="#000"/>
<rect x="660" y="371" width="1" height="10" fill="#000"/>
<rect x="658" y="372" width="5" height="5" fill="#000"/>
<rect x="659" y="373" width="3" height="3" fill="#fff"/>
<rect x="668" y="366" width="1" height="12" fill="#000"/>
<rect x="666" y="369" width="5" height="4" fill="#000"/>
<rect x="667" y="370" width="3" height="2" fill="#fff"/>
<rect x="676" y="363" width="1" height="40" fill="#000"/>
<rect x="674" y="369" width="5" height="18" fill="#000"/>
<rect x="684" y="333" width="1" height="60" fill="#000"/>
<rect x="682" y="340" width="5" height="47" fill="#000"/>
<rect x="683" y="341" width="3" height="45" fill="#fff"/>
<rect x="692" y="308" width="1" height="33" fill="#000"/>
<rect x="690" y="331" width="5" height="10" fill="#000"/>
<rect x="691" y="332" width="3" height="8" fill="#fff"/>
<rect x="700" y="325" width="1" height="16" fill="#000"/>
<rect x="698" y="331" width="5" height="2" fill="#000"/>
<rect x="708" y="328" width="1" height="11" fill="#000"/>
<rect x="706" y="329" width="5" height="2" fill="#000"/>
<rect x="716" y="323" width="1" height="56" fill="#000"/>
<rect x="714" y="329" width="5" height="36" fill="#000"/>
<rect x="724" y="344" width="1" height="82" fill="#000"/>
<rect x="722" y="364" width="5" height="36" fill="#000"/>
<rect x="732" y="386" width="1" height="49" fill="#000"/>
<rect x="730" y="388" width="5" height="13" fill="#000"/>
<rect x="731" y="389" width="3" height="11" fill="#fff"/>
<rect x="740" y="382" width="1" height="15" fill="#000"/>
<rect x="738" y="389" width="5" height="4" fill="#000"/>
<rect x="748" y="367" width="1" height="26" fill="#000"/>
<rect x="746" y="370" width="5" height="21" fill="#000"/>
<rect x="747" y="371" width="3" height="19" fill="#fff"/>
<rect x="756" y="363" width="1" height="18" fill="#000"/>
<rect x="754" y="370" width="5" height="4" fill="#000"/>
<rect x="764" y="367" width="1" height="16" fill="#000"/>
<rect x="762" y="373" width="5" height="7" fill="#000"/>
<rect x="772" y="297" width="1" height="86" fill="#000"/>
<rect x="770" y="301" width="5" height="79" fill="#000"/>
<rect x="771" y="302" width="3" height="77" fill="#fff"/>
<rect x="780" y="290" width="1" height="25" fill="#000"/>
<rect x="778" y="290" width="5" height="12" fill="#000"/>
<rect x="779" y="291" width="3" height="10" fill="#fff"/>
<rect x="788" y="289" width="1" height="10" fill="#000"/>
<rect x="786" y="290" width="5" height="6" fill="#000"/>
<rect x="796" y="275" width="1" height="15" fill="#000"/>
<rect x="794" y="280" width="5" height="9" fill="#000"/>
<rect x="795" y="281" width="3" height="7" fill="#fff"/>
<rect x="804" y="268" width="1" height="17" fill="#000"/>
<rect x="802" y="272" width="5" height="11" fill="#000"/>
<rect x="803" y="273" width="3" height="9" fill="#fff"/>
<rect x="812" y="271" width="1" height="9" fill="#000"/>
<rect x="810" y="271" width="5" height="3" fill="#000"/>
<rect x="811" y="272" width="3" height="1" fill="#fff"/>
<rect x="820" y="246" width="1" height="32" fill="#000"/>
<rect x="818" y="253" width="5" height="20" fill="#000"/>
<rect x="819" y="254" width="3" height="18" fill="#fff"/>
<rect x="828" y="231" width="1" height="27" fill="#000"/>
<rect x="826" y="242" width="5" height="12" fill="#000"/>
<rect x="827" y="243" width="3" height="10" fill="#fff"/>
<rect x="836" y="236" width="1" height="25" fill="#000"/>
<rect x="834" y="242" width="5" height="13" fill="#000"/>
<rect x="844" y="226" width="1" height="43" fill="#000"/>
<rect x="842" y="232" width="5" height="22" fill="#000"/>
<rect x="843" y="233" width="3" height="20" fill="#fff"/>
<rect x="852" y="230" width="1" height="20" fill="#000"/>
<rect x="850" y="230" width="5" height="5" fill="#000"/>
<rect x="851" y="231" width="3" height="3" fill="#fff"/>
<rect x="860" y="229" width="1" height="15" fill="#000"/>
<rect x="858" y="230" width="5" height="6" fill="#000"/>
<rect x="868" y="224" width="1" height="17" fill="#000"/>
<rect x="866" y="232" width="5" height="3" fill="#000"/>
<rect x="867" y="233" width="3" height="1" fill="#fff"/>
<rect x="876" y="216" width="1" height="38" fill="#000"/>
<rect x="874" y="232" width="5" height="13" fill="#000"/>
<rect x="884" y="218" width="1" height="31" fill="#000"/>
<rect x="882" y="221" width="5" height="23" fill="#000"/>
<rect x="883" y="222" width="3" height="21" fill="#fff"/>
<rect x="892" y="220" width="1" height="25" fill="#000"/>
<rect x="890" y="221" width="5" height="19" fill="#000"/>
<rect x="900" y="237" width="1" height="15" fill="#000"/>
<rect x="898" y="239" width="5" height="6" fill="#000"/>
<rect x="908" y="237" width="1" height="11" fill="#000"/>
<rect x="906" y="242" width="5" height="3" fill="#000"/>
<rect x="907" y="243" width="3" height="1" fill="#fff"/>
<rect x="916" y="228" width="1" height="23" fill="#000"/>
<rect x="914" y="238" width="5" height="4" fill="#000"/>
<rect x="915" y="239" width="3" height="2" fill="#fff"/>
<rect x="924" y="224" width="1" height="31" fill="#000"/>
<rect x="922" y="238" width="5" height="7" fill="#000"/>
<rect x="932" y="226" width="1" height="42" fill="#000"/>
<rect x="930" y="241" width="5" height="3" fill="#000"/>
<rect x="931" y="242" width="3" height="1" fill="#fff"/>
<rect x="940" y="230" width="1" height="17" fill="#000"/>
<rect x="938" y="241" width="5" height="3" fill="#000"/>
<rect x="948" y="236" width="1" height="17" fill="#000"/>
<rect x="946" y="242" width="5" height="6" fill="#000"/>
<rect x="956" y="181" width="1" height="68" fill="#000"/>
<rect x="954" y="196" width="5" height="52" fill="#000"/>
<rect x="955" y="197" width="3" height="50" fill="#fff"/>
<rect x="964" y="183" width="1" height="17" fill="#000"/>
<rect x="962" y="191" width="5" height="7" fill="#000"/>
<rect x="963" y="192" width="3" height="5" fill="#fff"/>
<rect x="972" y="138" width="1" height="60" fill="#000"/>
<rect x="970" y="142" width="5" height="52" fill="#000"/>
<rect x="971" y="143" width="3" height="50" fill="#fff"/>
<rect x="980" y="134" width="1" height="42" fill="#000"/>
<rect x="978" y="142" width="5" height="21" fill="#000"/>
<rect x="988" y="151" width="1" height="33" fill="#000"/>
<rect x="986" y="153" width="5" height="8" fill="#000"/>
<rect x="987" y="154" width="3" height="6" fill="#fff"/>
<rect x="996" y="142" width="1" height="38" fill="#000"/>
<rect x="994" y="153" width="5" height="17" fill="#000"/>
<rect x="1004" y="162" width="1" height="20" fill="#000"/>
<rect x="1002" y="166" width="5" height="4" fill="#000"/>
<rect x="1003" y="167" width="3" height="2" fill="#fff"/>
<rect x="1012" y="156" width="1" height="15" fill="#000"/>
<rect x="1010" y="159" width="5" height="7" fill="#000"/>
<rect x="1011" y="160" width="3" height="5" fill="#fff"/>
<rect x="1020" y="146" width="1" height="54" fill="#000"/>
<rect x="1018" y="159" width="5" height="26" fill="#000"/>
<rect x="1028" y="176" width="1" height="24" fill="#000"/>
<rect x="1026" y="183" width="5" height="3" fill="#000"/>
<rect x="1036" y="164" width="1" height="23" fill="#000"/>
<rect x="1034" y="170" width="5" height="15" fill="#000"/>
<rect x="1035" y="171" width="3" height="13" fill="#fff"/>
<rect x="1044" y="165" width="1" height="8" fill="#000"/>
<rect x="1042" y="170" width="5" height="3" fill="#000"/>
<rect x="1052" y="171" width="1" height="27" fill="#000"/>
<rect x="1050" y="173" width="5" height="22" fill="#000"/>
<rect x="1060" y="194" width="1" height="22" fill="#000"/>
<rect x="1058" y="194" width="5" height="13" fill="#000"/>
<rect x="1068" y="192" width="1" height="22" fill="#000"/>
<rect x="1066" y="206" width="5" height="1" fill="#000"/>
<rect x="1076" y="193" width="1" height="31" fill="#000"/>
<rect x="1074" y="205" width="5" height="2" fill="#000"/>
<rect x="1084" y="156" width="1" height="55" fill="#000"/>
<rect x="1082" y="163" width="5" height="43" fill="#000"/>
<rect x="1083" y="164" width="3" height="41" fill="#fff"/>
<rect x="1092" y="157" width="1" height="16" fill="#000"/>
<rect x="1090" y="163" width="5" height="6" fill="#000"/>
<rect x="1100" y="164" width="1" height="14" fill="#000"/>
<rect x="1098" y="168" width="5" height="6" fill="#000"/>
<rect x="1108" y="141" width="1" height="34" fill="#000"/>
<rect x="1106" y="149" width="5" height="25" fill="#000"/>
<rect x="1107" y="150" width="3" height="23" fill="#fff"/>
<rect x="1116" y="147" width="1" height="21" fill="#000"/>
<rect x="1114" y="150" width="5" height="7" fill="#000"/>
<rect x="1124" y="137" width="1" height="32" fill="#000"/>
<rect x="1122" y="145" width="5" height="12" fill="#000"/>
<rect x="1123" y="146" width="3" height="10" fill="#fff"/>
<rect x="1132" y="136" width="1" height="46" fill="#000"/>
<rect x="1130" y="145" width="5" height="31" fill="#000"/>
<rect x="1140" y="158" width="1" height="20" fill="#000"/>
<rect x="1138" y="168" width="5" height="8" fill="#000"/>
<rect x="1139" y="169" width="3" height="6" fill="#fff"/>
<rect x="1148" y="167" width="1" height="18" fill="#000"/>
<rect x="1146" y="168" width="5" height="14" fill="#000"/>
<rect x="1156" y="174" width="1" height="14" fill="#000"/>
<rect x="1154" y="174" width="5" height="9" fill="#000"/>
<rect x="1155" y="175" width="3" height="7" fill="#fff"/>
<rect x="1164" y="169" width="1" height="38" fill="#000"/>
<rect x="1162" y="175" width="5" height="23" fill="#000"/>
<rect x="1172" y="155" width="1" height="47" fill="#000"/>
<rect x="1170" y="159" width="5" height="38" fill="#000"/>
<rect x="1171" y="160" width="3" height="36" fill="#fff"/>
<rect x="1180" y="125" width="1" height="44" fill="#000"/>
<rect x="1178" y="132" width="5" height="28" fill="#000"/>
<rect x="1179" y="133" width="3" height="26" fill="#fff"/>
<rect x="1188" y="123" width="1" height="16" fill="#000"/>
<rect x="1186" y="129" width="5" height="4" fill="#000"/>
<rect x="1187" y="130" width="3" height="2" fill="#fff"/>
<rect x="1196" y="111" width="1" height="34" fill="#000"/>
<rect x="1194" y="130" width="5" height="7" fill="#000"/>
<rect x="1204" y="126" width="1" height="23" fill="#000"/>
<rect x="1202" y="135" width="5" height="2" fill="#000"/>
<rect x="1212" y="123" width="1" height="26" fill="#000"/>
<rect x="1210" y="134" width="5" height="2" fill="#000"/>
<rect x="1220" y="127" width="1" height="21" fill="#000"/>
<rect x="1218" y="134" width="5" height="13" fill="#000"/>
<rect x="1228" y="132" width="1" height="36" fill="#000"/>
<rect x="1226" y="136" width="5" height="11" fill="#000"/>
<rect x="1227" y="137" width="3" height="9" fill="#fff"/>
<rect x="1236" y="125" width="1" height="17" fill="#000"/>
<rect x="1234" y="126" width="5" height="12" fill="#000"/>
<rect x="1235" y="127" width="3" height="10" fill="#fff"/>
<rect x="1244" y="90" width="1" height="41" fill="#000"/>
<rect x="1242" y="98" width="5" height="29" fill="#000"/>
<rect x="1243" y="99" width="3" height="27" fill="#fff"/>
<rect x="1252" y="94" width="1" height="10" fill="#000"/>
<rect x="1250" y="98" width="5" height="6" fill="#000"/>
<rect x="1260" y="98" width="1" height="16" fill="#000"/>
<rect x="1258" y="102" width="5" height="7" fill="#000"/>
<rect x="1268" y="86" width="1" height="24" fill="#000"/>
<rect x="1266" y="89" width="5" height="20" fill="#000"/>
<rect x="1267" y="90" width="3" height="18" fill="#fff"/>
<rect x="1276" y="64" width="1" height="26" fill="#000"/>
<rect x="1274" y="65" width="5" height="25" fill="#000"/>
<rect x="1275" y="66" width="3" height="23" fill="#fff"/>
<rect x="1284" y="55" width="1" height="19" fill="#000"/>
<rect x="1282" y="62" width="5" height="4" fill="#000"/>
<rect x="1283" y="63" width="3" height="2" fill="#fff"/>
</g>
<rect x="1224" y="74" width="71" height="9" fill="#00ff00" shape-rendering="crispEdges"/>
<g shape-rendering="crispEdges">
<rect x="4" y="690" width="1" height="26" fill="#c0c0c0"/>
<rect x="12" y="677" width="1" height="39" fill="#c0c0c0"/>
<rect x="20" y="656" width="1" height="60" fill="#c0c0c0"/>
<rect x="28" y="631" width="1" height="85" fill="#c0c0c0"/>
<rect x="36" y="620" width="1" height="96" fill="#c0c0c0"/>
<rect x="44" y="612" width="1" height="104" fill="#c0c0c0"/>
<rect x="52" y="599" width="1" height="117" fill="#c0c0c0"/>
<rect x="60" y="596" width="1" height="120" fill="#c0c0c0"/>
<rect x="68" y="597" width="1" height="119" fill="#c0c0c0"/>
<rect x="76" y="603" width="1" height="113" fill="#c0c0c0"/>
<rect x="84" y="604" width="1" height="112" fill="#c0c0c0"/>
<rect x="92" y="609" width="1" height="107" fill="#c0c0c0"/>
<rect x="100" y="611" width="1" height="105" fill="#c0c0c0"/>
<rect x="108" y="614" width="1" height="102" fill="#c0c0c0"/>
<rect x="116" y="613" width="1" height="103" fill="#c0c0c0"/>
<rect x="124" y="616" width="1" height="100" fill="#c0c0c0"/>
<rect x="132" y="606" width="1" height="110" fill="#c0c0c0"/>
<rect x="140" y="601" width="1" height="115" fill="#c0c0c0"/>
<rect x="148" y="599" width="1" height="117" fill="#c0c0c0"/>
<rect x="156" y="603" width="1" height="113" fill="#c0c0c0"/>
<rect x="164" y="606" width="1" height="110" fill="#c0c0c0"/>
<rect x="172" y="608" width="1" height="108" fill="#c0c0c0"/>
<rect x="180" y="609" width="1" height="107" fill="#c0c0c0"/>
<rect x="188" y="613" width="1" height="103" fill="#c0c0c0"/>
<rect x="196" y="622" width="1" height="94" fill="#c0c0c0"/>
<rect x="204" y="628" width="1" height="88" fill="#c0c0c0"/>
<rect x="212" y="633" width="1" height="83" fill="#c0c0c0"/>
<rect x="220" y="632" width="1" height="84" fill="#c0c0c0"/>
<rect x="228" y="636" width="1" height="80" fill="#c0c0c0"/>
<rect x="236" y="638" width="1" height="78" fill="#c0c0c0"/>
<rect x="244" y="641" width="1" height="75" fill="#c0c0c0"/>
<rect x="252" y="645" width="1" height="71" fill="#c0c0c0"/>
<rect x="260" y="650" width="1" height="66" fill="#c0c0c0"/>
<rect x="268" y="650" width="1" height="66" fill="#c0c0c0"/>
<rect x="276" y="662" width="1" height="54" fill="#c0c0c0"/>
<rect x="284" y="682" width="1" height="34" fill="#c0c0c0"/>
<rect x="292" y="696" width="1" height="20" fill="#c0c0c0"/>
<rect x="300" y="705" width="1" height="11" fill="#c0c0c0"/>
<rect x="308" y="710" width="1" height="6" fill="#c0c0c0"/>
<rect x="316" y="714" width="1" height="2" fill="#c0c0c0"/>
<rect x="324" y="715" width="1" height="4" fill="#c0c0c0"/>
<rect x="332" y="715" width="1" height="10" fill="#c0c0c0"/>
<rect x="340" y="715" width="1" height="13" fill="#c0c0c0"/>
<rect x="348" y="715" width="1" height="15" fill="#c0c0c0"/>
<rect x="356" y="715" width="1" height="12" fill="#c0c0c0"/>
<rect x="364" y="715" width="1" height="15" fill="#c0c0c0"/>
<rect x="372" y="715" width="1" height="16" fill="#c0c0c0"/>
<rect x="380" y="715" width="1" height="14" fill="#c0c0c0"/>
<rect x="388" y="715" width="1" height="18" fill="#c0c0c0"/>
<rect x="396" y="715" width="1" height="22" fill="#c0c0c0"/>
<rect x="404" y="715" width="1" height="27" fill="#c0c0c0"/>
<rect x="412" y="715" width="1" height="29" fill="#c0c0c0"/>
<rect x="420" y="715" width="1" height="30" fill="#c0c0c0"/>
<rect x="428" y="715" width="1" height="26" fill="#c0c0c0"/>
<rect x="436" y="715" width="1" height="22" fill="#c0c0c0"/>
<rect x="444" y="715" width="1" height="18" fill="#c0c0c0"/>
<rect x="452" y="715" width="1" height="15" fill="#c0c0c0"/>
<rect x="460" y="715" width="1" height="11" fill="#c0c0c0"/>
<rect x="468" y="715" width="1" height="6" fill="#c0c0c0"/>
<rect x="476" y="715" width="1" height="8" fill="#c0c0c0"/>
<rect x="484" y="715" width="1" height="10" fill="#c0c0c0"/>
<rect x="492" y="715" width="1" height="12" fill="#c0c0c0"/>
<rect x="500" y="715" width="1" height="12" fill="#c0c0c0"/>
<rect x="508" y="715" width="1" height="12" fill="#c0c0c0"/>
<rect x="516" y="715" width="1" height="11" fill="#c0c0c0"/>
<rect x="524" y="714" width="1" height="2" fill="#c0c0c0"/>
<rect x="532" y="707" width="1" height="9" fill="#c0c0c0"/>
<rect x="540" y="701" width="1" height="15" fill="#c0c0c0"/>
<rect x="548" y="694" width="1" height="22" fill="#c0c0c0"/>
<rect x="556" y="688" width="1" height="28" fill="#c0c0c0"/>
<rect x="564" y="683" width="1" height="33" fill="#c0c0c0"/>
<rect x="572" y="677" width="1" height="39" fill="#c0c0c0"/>
<rect x="580" y="671" width="1" height="45" fill="#c0c0c0"/>
<rect x="588" y="666" width="1" height="50" fill="#c0c0c0"/>
<rect x="596" y="661" width="1" height="55" fill="#c0c0c0"/>
<rect x="604" y="658" width="1" height="58" fill="#c0c0c0"/>
<rect x="612" y="656" width="1" height="60" fill="#c0c0c0"/>
<rect x="620" y="659" width="1" height="57" fill="#c0c0c0"/>
<rect x="628" y="662" width="1" height="54" fill="#c0c0c0"/>
<rect x="636" y="662" width="1" height="54" fill="#c0c0c0"/>
<rect x="644" y="662" width="1" height="54" fill="#c0c0c0"/>
<rect x="652" y="665" width="1" height="51" fill="#c0c0c0"/>
<rect x="660" y="667" width="1" height="49" fill="#c0c0c0"/>
<rect x="668" y="668" width="1" height="48" fill="#c0c0c0"/>
<rect x="676" y="674" width="1" height="42" fill="#c0c0c0"/>
<rect x="684" y="668" width="1" height="48" fill="#c0c0c0"/>
<rect x="692" y="663" width="1" height="53" fill="#c0c0c0"/>
<rect x="700" y="659" width="1" height="57" fill="#c0c0c0"/>
<rect x="708" y="657" width="1" height="59" fill="#c0c0c0"/>
<rect x="716" y="663" width="1" height="53" fill="#c0c0c0"/>
<rect x="724" y="676" width="1" height="40" fill="#c0c0c0"/>
<rect x="732" y="684" width="1" height="32" fill="#c0c0c0"/>
<rect x="740" y="691" width="1" height="25" fill="#c0c0c0"/>
<rect x="748" y="693" width="1" height="23" fill="#c0c0c0"/>
<rect x="756" y="695" width="1" height="21" fill="#c0c0c0"/>
<rect x="764" y="698" width="1" height="18" fill="#c0c0c0"/>
<rect x="772" y="684" width="1" height="32" fill="#c0c0c0"/>
<rect x="780" y="672" width="1" height="44" fill="#c0c0c0"/>
<rect x="788" y="663" width="1" height="53" fill="#c0c0c0"/>
<rect x="796" y="654" width="1" height="62" fill="#c0c0c0"/>
<rect x="804" y="646" width="1" height="70" fill="#c0c0c0"/>
<rect x="812" y="640" width="1" height="76" fill="#c0c0c0"/>
<rect x="820" y="632" width="1" height="84" fill="#c0c0c0"/>
<rect x="828" y="625" width="1" height="91" fill="#c0c0c0"/>
<rect x="836" y="623" width="1" height="93" fill="#c0c0c0"/>
<rect x="844" y="618" width="1" height="98" fill="#c0c0c0"/>
<rect x="852" y="614" width="1" height="102" fill="#c0c0c0"/>
<rect x="860" y="614" width="1" height="102" fill="#c0c0c0"/>
<rect x="868" y="614" width="1" height="102" fill="#c0c0c0"/>
<rect x="876" y="618" width="1" height="98" fill="#c0c0c0"/>
<rect x="884" y="617" width="1" height="99" fill="#c0c0c0"/>
<rect x="892" y="621" width="1" height="95" fill="#c0c0c0"/>
<rect x="900" y="627" width="1" height="89" fill="#c0c0c0"/>
<rect x="908" y="632" width="1" height="84" fill="#c0c0c0"/>
<rect x="916" y="636" width="1" height="80" fill="#c0c0c0"/>
<rect x="924" y="641" width="1" height="75" fill="#c0c0c0"/>
<rect x="932" y="645" width="1" height="71" fill="#c0c0c0"/>
<rect x="940" y="649" width="1" height="67" fill="#c0c0c0"/>
<rect x="948" y="655" width="1" height="61" fill="#c0c0c0"/>
<rect x="956" y="649" width="1" height="67" fill="#c0c0c0"/>
<rect x="964" y="644" width="1" height="72" fill="#c0c0c0"/>
<rect x="972" y="630" width="1" height="86" fill="#c0c0c0"/>
<rect x="980" y="625" width="1" height="91" fill="#c0c0c0"/>
<rect x="988" y="620" width="1" height="96" fill="#c0c0c0"/>
<rect x="996" y="620" width="1" height="96" fill="#c0c0c0"/>
<rect x="1004" y="621" width="1" height="95" fill="#c0c0c0"/>
<rect x="1012" y="622" width="1" height="94" fill="#c0c0c0"/>
<rect x="1020" y="629" width="1" height="87" fill="#c0c0c0"/>
<rect x="1028" y="634" width="1" height="82" fill="#c0c0c0"/>
<rect x="1036" y="637" width="1" height="79" fill="#c0c0c0"/>
<rect x="1044" y="641" width="1" height="75" fill="#c0c0c0"/>
<rect x="1052" y="649" width="1" height="67" fill="#c0c0c0"/>
<rect x="1060" y="659" width="1" height="57" fill="#c0c0c0"/>
<rect x="1068" y="667" width="1" height="49" fill="#c0c0c0"/>
<rect x="1076" y="674" width="1" height="42" fill="#c0c0c0"/>
<rect x="1084" y="671" width="1" height="45" fill="#c0c0c0"/>
<rect x="1092" y="670" width="1" height="46" fill="#c0c0c0"/>
<rect x="1100" y="671" width="1" height="45" fill="#c0c0c0"/>
<rect x="1108" y="667" width="1" height="49" fill="#c0c0c0"/>
<rect x="1116" y="665" width="1" height="51" fill="#c0c0c0"/>
<rect x="1124" y="664" width="1" height="52" fill="#c0c0c0"/>
<rect x="1132" y="668" width="1" height="48" fill="#c0c0c0"/>
<rect x="1140" y="672" width="1" height="44" fill="#c0c0c0"/>
<rect x="1148" y="677" width="1" height="39" fill="#c0c0c0"/>
<rect x="1156" y="681" width="1" height="35" fill="#c0c0c0"/>
<rect x="1164" y="689" width="1" height="27" fill="#c0c0c0"/>
<rect x="1172" y="687" width="1" height="29" fill="#c0c0c0"/>
<rect x="1180" y="680" width="1" height="36" fill="#c0c0c0"/>
<rect x="1188" y="675" width="1" height="41" fill="#c0c0c0"/>
<rect x="1196" y="673" width="1" height="43" fill="#c0c0c0"/>
<rect x="1204" y="671" width="1" height="45" fill="#c0c0c0"/>
<rect x="1212" y="670" width="1" height="46" fill="#c0c0c0"/>
<rect x="1220" y="673" width="1" height="43" fill="#c0c0c0"/>
<rect x="1228" y="673" width="1" height="43" fill="#c0c0c0"/>
<rect x="1236" y="671" width="1" height="45" fill="#c0c0c0"/>
<rect x="1244" y="665" width="1" height="51" fill="#c0c0c0"/>
<rect x="1252" y="661" width="1" height="55" fill="#c0c0c0"/>
<rect x="1260" y="660" width="1" height="56" fill="#c0c0c0"/>
<rect x="1268" y="656" width="1" height="60" fill="#c0c0c0"/>
<rect x="1276" y="648" width="1" height="68" fill="#c0c0c0"/>
<rect x="1284" y="642" width="1" height="74" fill="#c0c0c0"/>
</g>
<path d="M0 739.5h1M1 738.5h1M2 737.5h1M6 733.5h1M7 732.5h1M8 731.5h1M12 727.5h1M13.5 725v2M16 721.5h1M17 720.5h1M18 719.5h1M21.5 714v2M22 713.5h1M24 709.5h1M25 708.5h1M26 707.5h1M28 703.5h1M29.5 701v2M31 697.5h1M32 696.5h1M33 695.5h1M35.5 690v2M36 689.5h1M38.5 684v2M39 683.5h1M41.5 678v2M42 677.5h1M44.5 672v2M45 671.5h1M47.5 666v2M48 665.5h1M50.5 660v2M51 659.5h1M53.5 654v2M54 653.5h1M56 649.5h1M57.5 647v2M59 643.5h1M60 642.5h1M61 641.5h1M64.5 636v2M65 635.5h1M68 631.5h1M69 630.5h1M70 629.5h1M73 625.5h1M74.5 623v2M78 619.5h1M79 618.5h1M80 617.5h1M84 613.5h1M85 612.5h2M90 609.5h2M92 608.5h1M96 607.5h3M102 606.5h3M108 605.5h3M114 605.5h3M120 606.5h2M122 607.5h1M126 607.5h2M128 608.5h1M132 608.5h3M138 609.5h3M144 609.5h1M145 608.5h2M150 608.5h3M156 608.5h3M162 608.5h3M168 608.5h1M169 607.5h2M174 607.5h3M180 607.5h3M186 607.5h3M192 607.5h3M198 608.5h2M200 609.5h1M204 610.5h2M206 611.5h1M210 612.5h1M211 613.5h2M216 615.5h1M217 616.5h2M222 618.5h1M223 619.5h2M228 621.5h2M230 622.5h1M234 623.5h1M235 624.5h2M240 626.5h1M241 627.5h2M246 629.5h1M247 630.5h2M252 632.5h1M253 633.5h2M258 635.5h1M259 636.5h2M264 638.5h3M270 640.5h1M271 641.5h2M276 643.5h1M277 644.5h2M282 647.5h2M284 648.5h1M288 652.5h2M290 653.5h1M294 657.5h1M295 658.5h1M296 659.5h1M300 663.5h1M301 664.5h1M302 665.5h1M306 669.5h1M307 670.5h1M308 671.5h1M312 675.5h1M313 676.5h1M314 677.5h1M318 681.5h1M319 682.5h1M320 683.5h1M324 687.5h1M325 688.5h1M326 689.5h1M329 693.5h1M330 694.5h1M331 695.5h1M335 699.5h1M336 700.5h1M337 701.5h1M341 705.5h1M342 706.5h1M343 707.5h1M347 711.5h1M348 712.5h1M349 713.5h1M353 715.5h2M355 716.5h1M359 718.5h2M361 719.5h1M365 720.5h1M366 721.5h2M371 723.5h3M377 724.5h1M378 725.5h2M383 726.5h3M389 727.5h1M390 728.5h2M395 729.5h3M401 730.5h1M402 731.5h2M407 731.5h1M408 732.5h2M413 732.5h1M414 733.5h2M419 734.5h3M425 735.5h1M426 736.5h2M431 736.5h3M437 736.5h3M443 737.5h3M449 737.5h3M455 737.5h2M457 736.5h1M461 736.5h2M463 735.5h1M467 734.5h3M473 733.5h2M475 732.5h1M479 731.5h3M485 730.5h2M487 729.5h1M491 728.5h3M497 727.5h2M499 726.5h1M503 726.5h2M505 725.5h1M509 725.5h3M515 725.5h3M521 724.5h2M523 723.5h1M527 722.5h3M533 721.5h2M535 720.5h1M539 719.5h3M545 717.5h2M547 716.5h1M551 715.5h1M552 714.5h2M557 711.5h2M559 710.5h1M563 708.5h1M564 707.5h1M565 706.5h1M569 704.5h1M570 703.5h2M575 700.5h1M576 699.5h1M577 698.5h1M581 695.5h1M582 694.5h1M583 693.5h1M587 690.5h1M588 689.5h1M589 688.5h1M593 685.5h2M595 684.5h1M599 681.5h2M601 680.5h1M605 677.5h2M607 676.5h1M611 674.5h1M612 673.5h2M617 671.5h1M618 670.5h2M623 668.5h2M625 667.5h1M629 666.5h2M631 665.5h1M635 664.5h3M641 663.5h2M643 662.5h1M647 662.5h2M649 661.5h1M653 661.5h3M659 661.5h3M665 662.5h3M671 663.5h3M677 664.5h3M683 665.5h3M689 666.5h3M695 666.5h2M697 665.5h1M701 665.5h3M707 665.5h3M713 665.5h3M719 665.5h1M720 666.5h2M725 666.5h1M726 667.5h2M731 668.5h3M737 669.5h1M738 670.5h2M743 671.5h1M744 672.5h2M749 673.5h1M750 674.5h2M755 676.5h3M761 678.5h2M763 679.5h1M767 680.5h1M768 681.5h2M773 682.5h1M774 683.5h2M779 684.5h3M785 684.5h3M791 683.5h2M793 682.5h1M797 681.5h1M798 680.5h2M803 678.5h1M804 677.5h1M805 676.5h1M809 674.5h1M810 673.5h2M815 669.5h2M817 668.5h1M821 664.5h1M822 663.5h1M823 662.5h1M827 658.5h1M828 657.5h1M829 656.5h1M833 652.5h1M834 651.5h1M835 650.5h1M839 646.5h2M841 645.5h1M845 641.5h1M846 640.5h1M847 639.5h1M851 636.5h1M852 635.5h1M853 634.5h1M857 632.5h1M858 631.5h2M863 628.5h2M865 627.5h1M869 625.5h1M870 624.5h2M875 622.5h3M881 620.5h2M883 619.5h1M887 619.5h2M889 618.5h1M893 618.5h3M899 618.5h3M905 619.5h3M911 620.5h3M917 621.5h1M918 622.5h2M923 624.5h2M925 625.5h1M929 627.5h2M931 628.5h1M935 630.5h2M937 631.5h1M941 633.5h2M943 634.5h1M947 636.5h3M953 638.5h2M955 639.5h1M959 640.5h1M960 641.5h2M965 642.5h3M971 642.5h3M977 641.5h3M983 641.5h2M985 640.5h1M989 640.5h1M990 639.5h2M995 637.5h3M1001 636.5h2M1003 635.5h1M1007 634.5h2M1009 633.5h1M1013 632.5h1M1014 631.5h2M1019 629.5h3M1025 628.5h2M1027 627.5h1M1031 627.5h2M1033 626.5h1M1037 626.5h3M1043 627.5h3M1049 629.5h2M1051 630.5h1M1055 632.5h2M1057 633.5h1M1061 635.5h1M1062 636.5h2M1067 639.5h1M1068 640.5h1M1069 641.5h1M1073 644.5h1M1074 645.5h2M1079 648.5h1M1080 649.5h2M1085 652.5h2M1087 653.5h1M1091 655.5h1M1092 656.5h1M1093 657.5h1M1097 659.5h2M1099 660.5h1M1103 661.5h1M1104 662.5h2M1109 663.5h1M1110 664.5h2M1115 666.5h3M1121 667.5h3M1127 667.5h1M1128 668.5h2M1133 668.5h3M1139 669.5h3M1145 669.5h3M1151 669.5h1M1152 670.5h2M1157 670.5h1M1158 671.5h2M1163 673.5h3M1169 674.5h3M1175 675.5h3M1181 676.5h3M1187 677.5h3M1193 678.5h3M1199 678.5h3M1205 678.5h3M1211 678.5h3M1217 678.5h3M1223 678.5h2M1225 677.5h1M1229 677.5h2M1231 676.5h1M1235 675.5h3M1241 673.5h2M1243 672.5h1M1247 671.5h3M1253 670.5h2M1255 669.5h1M1259 668.5h3M1265 667.5h3M1271 666.5h2M1273 665.5h1M1277 664.5h1M1278 663.5h2M1283 661.5h2" fill="none" stroke="#ff0000" stroke-width="1" shape-rendering="crispEdges" />
<g shape-rendering="crispEdges">
<line x1="3" y1="791.5" x2="1615" y2="791.5" stroke="#c0c0c0" stroke-dasharray="3 3"/>
<line x1="3" y1="842.5" x2="1615" y2="842.5" stroke="#c0c0c0" stroke-dasharray="3 3"/>
<line x1="3" y1="903.5" x2="1615" y2="903.5" stroke="#c0c0c0" stroke-dasharray="3 3"/>
</g>
<path d="M0 827.5h1M1 826.5h6M7 825.5h4M11 824.5h2M13 823.5h1M14 822.5h1M15 821.5h1M16 820.5h1M17 819.5h1M18 818.5h1M19 817.5h1M20 816.5h1M21 815.5h1M22 814.5h1M23 813.5h2M25 812.5h1M26 811.5h1M27 810.5h1M28 809.5h1M29 810.5h1M30.5 811v2M31 813.5h1M32 814.5h1M33 815.5h1M34.5 816v2M35 818.5h1M36 819.5h9M45 818.5h2M47 817.5h2M49 816.5h1M50 815.5h2M52 814.5h1M53 815.5h2M55 816.5h2M57 817.5h2M59 818.5h2M61 819.5h1M62 820.5h1M63 821.5h1M64.5 822v2M65 824.5h1M66 825.5h1M67 826.5h1M68 827.5h2M70 828.5h2M72 829.5h3M75 830.5h2M77 829.5h2M79 828.5h1M80 827.5h1M81 826.5h2M83 825.5h1M84 824.5h1M85 825.5h1M86 826.5h2M88 827.5h1M89 828.5h1M90 829.5h2M92 830.5h2M94 829.5h2M96 828.5h2M98 827.5h2M100 826.5h10M110 825.5h2M112 824.5h2M114 823.5h2M116 822.5h1M117 823.5h2M119 824.5h2M121 825.5h2M123 826.5h2M125.5 824v2M126 823.5h1M127.5 821v2M128 820.5h1M129.5 818v2M130 817.5h1M131.5 815v2M132 814.5h2M134 815.5h4M138 816.5h4M142 817.5h4M146 818.5h3M149 819.5h1M150 820.5h2M152 821.5h1M153 822.5h1M154 823.5h2M156 824.5h3M159 823.5h4M163 822.5h6M169 821.5h5M174 820.5h3M177 819.5h2M179 818.5h2M181 819.5h2M183 820.5h2M185 821.5h2M187 822.5h2M189 823.5h1M190.5 824v2M191 826.5h1M192 827.5h1M193 828.5h1M194.5 829v2M195 831.5h1M196 832.5h2M198 831.5h3M201 830.5h2M203 829.5h4M207 828.5h4M211 827.5h2M213 826.5h1M214 825.5h1M215 824.5h2M217 823.5h1M218 822.5h1M219 821.5h1M220 820.5h1M221 821.5h1M222 822.5h1M223 823.5h1M224 824.5h1M225 825.5h1M226 826.5h1M227 827.5h1M228 828.5h3M231 827.5h4M235 826.5h10M245 827.5h2M247 828.5h2M249 829.5h2M251 830.5h10M261 829.5h2M263 828.5h1M264 827.5h1M265 826.5h2M267 825.5h1M268.5 824v2M269.5 826v2M270.5 828v2M271.5 830v3M272.5 833v2M273.5 835v3M274.5 838v2M275.5 840v2M276.5 842v2M277.5 844v2M278.5 846v2M279.5 848v2M280.5 850v2M281.5 852v2M282.5 854v2M283.5 856v2M284.5 858v2M285 859.5h1M286 858.5h3M289 857.5h2M291 856.5h3M294 855.5h2M296 854.5h2M298 853.5h2M300 852.5h2M302 851.5h2M304 850.5h2M306 849.5h2M308 848.5h10M318 849.5h4M322 850.5h3M325 851.5h2M327 852.5h1M328 853.5h2M330 854.5h2M332 855.5h1M333 854.5h2M335 853.5h2M337 852.5h1M338 851.5h2M340 850.5h4M344 851.5h5M349 850.5h1M350 849.5h1M351 848.5h1M352.5 846v2M353 845.5h1M354 844.5h1M355 843.5h1M356 842.5h1M357 843.5h1M358 844.5h1M359 845.5h1M360.5 846v2M361 848.5h1M362 849.5h1M363 850.5h1M364 851.5h2M366 850.5h3M369 849.5h2M371 848.5h3M374 847.5h2M376 846.5h2M378 845.5h2M380 844.5h1M381 845.5h1M382.5 846v2M383 848.5h1M384 849.5h1M385 850.5h1M386.5 851v2M387 853.5h1M388 854.5h2M390 855.5h4M394 856.5h3M397 857.5h2M399 858.5h2M401 859.5h2M403 860.5h3M406 859.5h3M409 858.5h2M411 857.5h4M415 856.5h4M419 855.5h2M421.5 853v2M422 852.5h1M423.5 850v2M424 849.5h1M425.5 847v2M426 846.5h1M427.5 844v2M428 843.5h10M438 842.5h3M441 841.5h2M443 840.5h5M448 841.5h6M454 840.5h2M456 839.5h2M458 838.5h2M460 837.5h2M462 836.5h3M465 835.5h2M467 834.5h2M469.5 835v2M470.5 837v2M471.5 839v2M472.5 841v2M473.5 843v2M474.5 845v2M475.5 847v2M476.5 849v2M477 850.5h9M486 851.5h4M490 852.5h4M494 851.5h2M496 850.5h2M498 849.5h2M500 848.5h4M504 849.5h9M513 848.5h4M516 847.5h1M517.5 843v4M518.5 839v4M519.5 835v4M520.5 831v4M521.5 827v4M522.5 823v4M523.5 819v4M524.5 817v2M525.5 818v2M526 820.5h1M527 821.5h1M528.5 822v2M529 824.5h1M530 825.5h1M531.5 826v2M532 828.5h9M541 827.5h2M543 826.5h1M544 825.5h1M545 824.5h2M547 823.5h1M548 822.5h3M551 821.5h4M555 820.5h4M559 819.5h4M563 818.5h3M566 817.5h2M568 816.5h2M570 815.5h2M572 814.5h3M575 813.5h4M579 812.5h4M583 811.5h4M587 810.5h3M590 809.5h3M593 808.5h2M595 807.5h3M598 808.5h4M602 809.5h6M608 810.5h5M613.5 811v2M614.5 813v2M615.5 815v2M616 817.5h1M617.5 818v2M618.5 820v2M619.5 822v2M620 824.5h5M625 823.5h4M629 822.5h1M630 821.5h1M631 820.5h2M633 819.5h1M634 818.5h1M635 817.5h1M636 816.5h9M645 817.5h1M646 818.5h1M647 819.5h1M648.5 820v2M649 822.5h1M650 823.5h1M651 824.5h1M652 825.5h2M654 824.5h2M656 823.5h2M658 822.5h2M660 821.5h5M665 820.5h4M669.5 821v2M670.5 823v2M671.5 825v2M672.5 827v2M673.5 829v2M674.5 831v2M675.5 833v2M676.5 835v2M677.5 832v3M678.5 829v3M679.5 826v3M680.5 824v2M681.5 821v3M682.5 818v3M683.5 815v3M684.5 813v2M685 813.5h1M686 812.5h2M688 811.5h2M690 810.5h2M692 809.5h13M705 808.5h4M708 809.5h1M709.5 810v3M710.5 813v4M711.5 817v3M712.5 820v3M713.5 823v3M714.5 826v4M715.5 830v3M716.5 833v3M717.5 836v2M718.5 838v2M719.5 840v2M720.5 842v3M721.5 845v2M722.5 847v2M723.5 849v2M724.5 851v2M725 851.5h2M727 850.5h2M729 849.5h1M730 848.5h2M732 847.5h4M736 848.5h5M741.5 846v2M742 845.5h1M743 844.5h1M744.5 842v2M745 841.5h1M746 840.5h1M747.5 838v2M748 837.5h2M750 838.5h4M754 839.5h4M758 840.5h2M760 841.5h3M763 842.5h2M764 841.5h1M765.5 837v4M766.5 833v4M767.5 830v3M768.5 826v4M769.5 823v3M770.5 819v4M771.5 815v4M772.5 813v2M773 813.5h2M775 812.5h4M779 811.5h3M782 812.5h4M786 813.5h4M790 812.5h2M792 811.5h2M794 810.5h2M796 809.5h3M799 808.5h4M803 807.5h10M813 806.5h2M815 805.5h2M817 804.5h1M818 803.5h2M820 802.5h3M823 801.5h4M827 800.5h2M829 801.5h1M830 802.5h1M831 803.5h1M832 804.5h1M833 805.5h1M834 806.5h1M835 807.5h1M836 808.5h1M837 807.5h2M839 806.5h2M841 805.5h1M842 804.5h2M844 803.5h5M849 802.5h5M854 803.5h2M856 804.5h3M859 805.5h6M865 804.5h4M869 805.5h1M870 806.5h1M871 807.5h1M872.5 808v2M873 810.5h1M874 811.5h1M875 812.5h1M876 813.5h1M877 812.5h2M879 811.5h1M880 810.5h1M881 809.5h2M883 808.5h1M884 807.5h1M885 808.5h1M886.5 809v2M887 811.5h1M888 812.5h1M889 813.5h1M890.5 814v2M891 816.5h1M892 817.5h1M893 818.5h2M895 819.5h2M897 820.5h2M899 821.5h6M905 820.5h6M911 819.5h4M915 818.5h2M917 819.5h2M919 820.5h2M921 821.5h2M923 822.5h6M929 821.5h7M936 822.5h5M941 823.5h2M943 824.5h2M945 825.5h2M947 826.5h2M948 825.5h1M949.5 823v2M950.5 820v3M951.5 817v3M952.5 815v2M953.5 812v3M954.5 809v3M955.5 807v2M956.5 805v2M957 805.5h4M961 804.5h4M965.5 802v2M966 801.5h1M967.5 799v2M968 798.5h1M969.5 796v2M970 795.5h1M971.5 793v2M972 792.5h1M973.5 793v2M974.5 795v2M975 797.5h1M976.5 798v2M977 800.5h1M978.5 801v2M979.5 803v2M980 805.5h3M983 804.5h4M987 803.5h2M989.5 804v2M990 806.5h1M991 807.5h1M992.5 808v2M993 810.5h1M994 811.5h1M995.5 812v2M996 814.5h3M999 813.5h4M1003 812.5h4M1007 811.5h4M1011 810.5h2M1013.5 811v2M1014.5 813v2M1015.5 815v2M1016.5 817v2M1017.5 819v2M1018.5 821v2M1019.5 823v2M1020 825.5h9M1029 824.5h2M1031 823.5h2M1033 822.5h1M1034 821.5h2M1036 820.5h4M1040 821.5h5M1045.5 822v2M1046.5 824v2M1047 826.5h1M1048.5 827v2M1049 829.5h1M1050.5 830v2M1051.5 832v2M1052 834.5h1M1053 835.5h1M1054 836.5h1M1055 837.5h1M1056 838.5h1M1057 839.5h1M1058 840.5h1M1059 841.5h1M1060 842.5h3M1063 841.5h4M1067 840.5h10M1076 839.5h1M1077.5 837v2M1078.5 835v2M1079.5 832v3M1080.5 830v2M1081.5 827v3M1082.5 825v2M1083.5 823v2M1084.5 821v2M1085 821.5h1M1086 822.5h2M1088 823.5h3M1091 824.5h2M1093 825.5h2M1095 826.5h2M1097 827.5h2M1099 828.5h2M1101 827.5h1M1102.5 825v2M1103 824.5h1M1104 823.5h1M1105 822.5h1M1106.5 820v2M1107 819.5h1M1108 818.5h1M1109 819.5h2M1111 820.5h2M1113 821.5h2M1115 822.5h3M1118 821.5h2M1120 820.5h2M1122 819.5h2M1124.5 818v2M1125.5 820v2M1126.5 822v2M1127.5 824v2M1128.5 826v3M1129.5 829v2M1130.5 831v2M1131.5 833v2M1132.5 835v2M1133 836.5h1M1134 835.5h2M1136 834.5h2M1138 833.5h2M1140 832.5h1M1141 833.5h1M1142 834.5h1M1143 835.5h1M1144 836.5h1M1145 837.5h1M1146 838.5h1M1147 839.5h1M1148 840.5h2M1150 839.5h2M1152 838.5h2M1154 837.5h2M1156 836.5h1M1157.5 837v2M1158 839.5h1M1159 840.5h1M1160.5 841v2M1161 843.5h1M1162 844.5h1M1163.5 845v2M1164 847.5h1M1165.5 845v2M1166.5 843v2M1167.5 841v2M1168.5 839v2M1169.5 837v2M1170.5 835v2M1171.5 833v2M1172 832.5h1M1173 831.5h1M1174 830.5h1M1175 829.5h1M1176.5 827v2M1177 826.5h1M1178 825.5h1M1179 824.5h1M1180 823.5h3M1183 822.5h4M1187 821.5h2M1189 822.5h2M1191 823.5h2M1193 824.5h2M1195 825.5h14M1209 824.5h4M1213 825.5h1M1214 826.5h1M1215 827.5h1M1216 828.5h2M1218 829.5h1M1219 830.5h1M1220 831.5h2M1222 830.5h2M1224 829.5h2M1226 828.5h2M1228 827.5h2M1230 826.5h2M1232 825.5h2M1234 824.5h2M1236 823.5h1M1237 822.5h1M1238.5 820v2M1239 819.5h1M1240 818.5h1M1241 817.5h1M1242.5 815v2M1243 814.5h1M1244 813.5h2M1246 814.5h2M1248 815.5h3M1251 816.5h3M1254 817.5h2M1256 818.5h3M1259 819.5h2M1261 818.5h2M1263 817.5h1M1264 816.5h1M1265 815.5h2M1267 814.5h1M1268 813.5h1M1269 812.5h1M1270 811.5h1M1271 810.5h2M1273 809.5h1M1274 808.5h1M1275 807.5h1M1276 806.5h5M1281 805.5h4" fill="none" stroke="#1e90ff" stroke-width="1" shape-rendering="crispEdges" />
<g shape-rendering="crispEdges">
<rect x="1616" y="50" width="2" height="1" fill="#000"/>
<rect x="1616" y="83" width="2" height="1" fill="#000"/>
<rect x="1616" y="116" width="2" height="1" fill="#000"/>
<rect x="1616" y="149" width="2" height="1" fill="#000"/>
<rect x="1616" y="182" width="2" height="1" fill="#000"/>
<rect x="1616" y="215" width="2" height="1" fill="#000"/>
<rect x="1616" y="248" width="2" height="1" fill="#000"/>
<rect x="1616" y="281" width="2" height="1" fill="#000"/>
<rect x="1616" y="314" width="2" height="1" fill="#000"/>
<rect x="1616" y="347" width="2" height="1" fill="#000"/>
<rect x="1616" y="380" width="2" height="1" fill="#000"/>
<rect x="1616" y="413" width="2" height="1" fill="#000"/>
<rect x="1616" y="446" width="2" height="1" fill="#000"/>
<rect x="1616" y="479" width="2" height="1" fill="#000"/>
<rect x="1616" y="512" width="2" height="1" fill="#000"/>
<rect x="1616" y="545" width="2" height="1" fill="#000"/>
<rect x="1616" y="578" width="2" height="1" fill="#000"/>
<rect x="1616" y="585" width="1" height="1" fill="#000"/>
<rect x="1616" y="715" width="1" height="1" fill="#000"/>
<rect x="1616" y="752" width="1" height="1" fill="#000"/>
<rect x="1616" y="757" width="1" height="1" fill="#000"/>
</g>
<text x="1621" y="53.6" font-size="10px" fill="#000" stroke="#000" stroke-width="0.1" font-family="Liberation Sans, sans-serif" textLength="33" lengthAdjust="spacingAndGlyphs">27982.5</text>
<text x="1621" y="86.6" font-size="10px" fill="#000" stroke="#000" stroke-width="0.1" font-family="Liberation Sans, sans-serif" textLength="33" lengthAdjust="spacingAndGlyphs">27885.0</text>
<text x="1621" y="119.6" font-size="10px" fill="#000" stroke="#000" stroke-width="0.1" font-family="Liberation Sans, sans-serif" textLength="33" lengthAdjust="spacingAndGlyphs">27787.5</text>
<text x="1621" y="152.6" font-size="10px" fill="#000" stroke="#000" stroke-width="0.1" font-family="Liberation Sans, sans-serif" textLength="33" lengthAdjust="spacingAndGlyphs">27690.0</text>
<text x="1621" y="185.6" font-size="10px" fill="#000" stroke="#000" stroke-width="0.1" font-family="Liberation Sans, sans-serif" textLength="33" lengthAdjust="spacingAndGlyphs">27592.5</text>
<text x="1621" y="218.6" font-size="10px" fill="#000" stroke="#000" stroke-width="0.1" font-family="Liberation Sans, sans-serif" textLength="33" lengthAdjust="spacingAndGlyphs">27492.5</text>
<text x="1621" y="251.6" font-size="10px" fill="#000" stroke="#000" stroke-width="0.1" font-family="Liberation Sans, sans-serif" textLength="33" lengthAdjust="spacingAndGlyphs">27395.0</text>
<text x="1621" y="284.6" font-size="10px" fill="#000" stroke="#000" stroke-width="0.1" font-family="Liberation Sans, sans-serif" textLength="33" lengthAdjust="spacingAndGlyphs">27297.5</text>
<text x="1621" y="317.6" font-size="10px" fill="#000" stroke="#000" stroke-width="0.1" font-family="Liberation Sans, sans-serif" textLength="33" lengthAdjust="spacingAndGlyphs">27200.0</text>
<text x="1621" y="350.6" font-size="10px" fill="#000" stroke="#000" stroke-width="0.1" font-family="Liberation Sans, sans-serif" textLength="33" lengthAdjust="spacingAndGlyphs">27102.5</text>
<text x="1621" y="383.6" font-size="10px" fill="#000" stroke="#000" stroke-width="0.1" font-family="Liberation Sans, sans-serif" textLength="33" lengthAdjust="spacingAndGlyphs">27005.0</text>
<text x="1621" y="416.6" font-size="10px" fill="#000" stroke="#000" stroke-width="0.1" font-family="Liberation Sans, sans-serif" textLength="33" lengthAdjust="spacingAndGlyphs">26907.5</text>
<text x="1621" y="449.6" font-size="10px" fill="#000" stroke="#000" stroke-width="0.1" font-family="Liberation Sans, sans-serif" textLength="33" lengthAdjust="spacingAndGlyphs">26807.5</text>
<text x="1621" y="482.6" font-size="10px" fill="#000" stroke="#000" stroke-width="0.1" font-family="Liberation Sans, sans-serif" textLength="33" lengthAdjust="spacingAndGlyphs">26710.0</text>
<text x="1621" y="515.6" font-size="10px" fill="#000" stroke="#000" stroke-width="0.1" font-family="Liberation Sans, sans-serif" textLength="33" lengthAdjust="spacingAndGlyphs">26612.5</text>
<text x="1621" y="548.6" font-size="10px" fill="#000" stroke="#000" stroke-width="0.1" font-family="Liberation Sans, sans-serif" textLength="33" lengthAdjust="spacingAndGlyphs">26515.0</text>
<text x="1621" y="581.6" font-size="10px" fill="#000" stroke="#000" stroke-width="0.1" font-family="Liberation Sans, sans-serif" textLength="33" lengthAdjust="spacingAndGlyphs">26417.5</text>
<text x="1619" y="594" font-size="10px" fill="#000" stroke="#000" stroke-width="0.1" font-family="Liberation Sans, sans-serif" textLength="28" lengthAdjust="spacingAndGlyphs">145.25</text>
<text x="1619" y="719" font-size="10px" fill="#000" stroke="#000" stroke-width="0.1" font-family="Liberation Sans, sans-serif" textLength="18" lengthAdjust="spacingAndGlyphs">0.00</text>
<text x="1619" y="750" font-size="10px" fill="#000" stroke="#000" stroke-width="0.1" font-family="Liberation Sans, sans-serif" textLength="21" lengthAdjust="spacingAndGlyphs">-41.8</text>
<text x="1619" y="766" font-size="10px" fill="#000" stroke="#000" stroke-width="0.1" font-family="Liberation Sans, sans-serif" textLength="15" lengthAdjust="spacingAndGlyphs">100</text>
<text x="1618" y="795" font-size="10px" fill="#000" stroke="#000" stroke-width="0.1" font-family="Liberation Sans, sans-serif" textLength="10" lengthAdjust="spacingAndGlyphs">80</text>
<text x="1618" y="846" font-size="10px" fill="#000" stroke="#000" stroke-width="0.1" font-family="Liberation Sans, sans-serif" textLength="10" lengthAdjust="spacingAndGlyphs">50</text>
<text x="1618" y="907" font-size="10px" fill="#000" stroke="#000" stroke-width="0.1" font-family="Liberation Sans, sans-serif" textLength="10" lengthAdjust="spacingAndGlyphs">15</text>
<text x="1618" y="926" font-size="10px" fill="#000" stroke="#000" stroke-width="0.1" font-family="Liberation Sans, sans-serif" textLength="5" lengthAdjust="spacingAndGlyphs">0</text>
<rect x="1617" y="29" width="41" height="11" fill="#ff0000" shape-rendering="crispEdges"/>
<text x="1621" y="38" font-size="9.3px" fill="#fff" font-family="Liberation Sans, sans-serif" textLength="33" lengthAdjust="spacingAndGlyphs">28026.2</text>
<rect x="1609" y="32" width="6" height="6" fill="#ff0000" shape-rendering="crispEdges"/>
<rect x="1611" y="34" width="2" height="2" fill="#fff" shape-rendering="crispEdges"/>
<rect x="1617" y="38" width="41" height="11" fill="#ff0000" shape-rendering="crispEdges"/>
<text x="1621" y="47" font-size="9.3px" fill="#fff" font-family="Liberation Sans, sans-serif" textLength="33" lengthAdjust="spacingAndGlyphs">27999.6</text>
<rect x="1609" y="41" width="6" height="6" fill="#ff0000" shape-rendering="crispEdges"/>
<rect x="1611" y="43" width="2" height="2" fill="#fff" shape-rendering="crispEdges"/>
<rect x="1617" y="57" width="41" height="11" fill="#000000" shape-rendering="crispEdges"/>
<text x="1621" y="66" font-size="9.3px" fill="#fff" font-family="Liberation Sans, sans-serif" textLength="33" lengthAdjust="spacingAndGlyphs">27949.0</text>
<rect x="1617" y="72" width="41" height="11" fill="#32cd32" shape-rendering="crispEdges"/>
<text x="1621" y="81" font-size="9.3px" fill="#fff" font-family="Liberation Sans, sans-serif" textLength="33" lengthAdjust="spacingAndGlyphs">27899.0</text>
<rect x="1609" y="75" width="6" height="6" fill="#32cd32" shape-rendering="crispEdges"/>
<rect x="1611" y="77" width="2" height="2" fill="#fff" shape-rendering="crispEdges"/>
<rect x="1617" y="87" width="41" height="11" fill="#0000ff" shape-rendering="crispEdges"/>
<text x="1621" y="96" font-size="9.3px" fill="#fff" font-family="Liberation Sans, sans-serif" textLength="33" lengthAdjust="spacingAndGlyphs">27854.6</text>
<rect x="1609" y="90" width="6" height="6" fill="#0000ff" shape-rendering="crispEdges"/>
<rect x="1611" y="92" width="2" height="2" fill="#fff" shape-rendering="crispEdges"/>
<rect x="1617" y="105" width="41" height="11" fill="#0000ff" shape-rendering="crispEdges"/>
<text x="1621" y="114" font-size="9.3px" fill="#fff" font-family="Liberation Sans, sans-serif" textLength="33" lengthAdjust="spacingAndGlyphs">27801.3</text>
<rect x="1609" y="108" width="6" height="6" fill="#0000ff" shape-rendering="crispEdges"/>
<rect x="1611" y="110" width="2" height="2" fill="#fff" shape-rendering="crispEdges"/>
<g shape-rendering="crispEdges"><rect x="0" y="32" width="1" height="6" fill="#ff0000"/><rect x="0" y="41" width="1" height="6" fill="#ff0000"/></g>
<text x="12" y="40" font-size="10px" fill="#000" stroke="#000" stroke-width="0.1" font-family="Liberation Sans, sans-serif" textLength="185" lengthAdjust="spacingAndGlyphs" xml:space="preserve">DJ30-,H4  27940.0 27968.0 27914.0 27949.0</text>
<g shape-rendering="crispEdges">
<rect x="0" y="34" width="1609" height="2" fill="#ff0000"/>
<rect x="0" y="43" width="1609" height="2" fill="#ff0000"/>
</g>
<path d="M-1 39.4 L2.7 34.6 L6.4 39.4 Z" fill="#000"/>
<text x="1" y="596" font-size="10px" fill="#000" stroke="#000" stroke-width="0.1" font-family="Liberation Sans, sans-serif" textLength="117" lengthAdjust="spacingAndGlyphs">MACD(12,26,9) 82.24 61.21</text>
<text x="1" y="768" font-size="10px" fill="#000" stroke="#000" stroke-width="0.1" font-family="Liberation Sans, sans-serif" textLength="67" lengthAdjust="spacingAndGlyphs">RSI(14) 71.9874</text>
<text x="-5" y="942" font-size="10px" fill="#000" stroke="#000" stroke-width="0.1" font-family="Liberation Sans, sans-serif" textLength="51.5" lengthAdjust="spacingAndGlyphs">10 Oct 2019</text>
<text x="59" y="942" font-size="10px" fill="#000" stroke="#000" stroke-width="0.1" font-family="Liberation Sans, sans-serif" textLength="54.1" lengthAdjust="spacingAndGlyphs">14 Oct 00:00</text>
<text x="123" y="942" font-size="10px" fill="#000" stroke="#000" stroke-width="0.1" font-family="Liberation Sans, sans-serif" textLength="54.1" lengthAdjust="spacingAndGlyphs">15 Oct 08:00</text>
<text x="187" y="942" font-size="10px" fill="#000" stroke="#000" stroke-width="0.1" font-family="Liberation Sans, sans-serif" textLength="54.1" lengthAdjust="spacingAndGlyphs">16 Oct 16:00</text>
<text x="251" y="942" font-size="10px" fill="#000" stroke="#000" stroke-width="0.1" font-family="Liberation Sans, sans-serif" textLength="54.1" lengthAdjust="spacingAndGlyphs">18 Oct 00:00</text>
<text x="315" y="942" font-size="10px" fill="#000" stroke="#000" stroke-width="0.1" font-family="Liberation Sans, sans-serif" textLength="54.1" lengthAdjust="spacingAndGlyphs">21 Oct 04:00</text>
<text x="379" y="942" font-size="10px" fill="#000" stroke="#000" stroke-width="0.1" font-family="Liberation Sans, sans-serif" textLength="54.1" lengthAdjust="spacingAndGlyphs">22 Oct 12:00</text>
<text x="443" y="942" font-size="10px" fill="#000" stroke="#000" stroke-width="0.1" font-family="Liberation Sans, sans-serif" textLength="54.1" lengthAdjust="spacingAndGlyphs">23 Oct 20:00</text>
<text x="507" y="942" font-size="10px" fill="#000" stroke="#000" stroke-width="0.1" font-family="Liberation Sans, sans-serif" textLength="54.1" lengthAdjust="spacingAndGlyphs">25 Oct 04:00</text>
<text x="571" y="942" font-size="10px" fill="#000" stroke="#000" stroke-width="0.1" font-family="Liberation Sans, sans-serif" textLength="54.1" lengthAdjust="spacingAndGlyphs">28 Oct 08:00</text>
<text x="635" y="942" font-size="10px" fill="#000" stroke="#000" stroke-width="0.1" font-family="Liberation Sans, sans-serif" textLength="54.1" lengthAdjust="spacingAndGlyphs">29 Oct 16:00</text>
<text x="699" y="942" font-size="10px" fill="#000" stroke="#000" stroke-width="0.1" font-family="Liberation Sans, sans-serif" textLength="54.1" lengthAdjust="spacingAndGlyphs">31 Oct 00:00</text>
<text x="763" y="942" font-size="10px" fill="#000" stroke="#000" stroke-width="0.1" font-family="Liberation Sans, sans-serif" textLength="51.0" lengthAdjust="spacingAndGlyphs">1 Nov 08:00</text>
<text x="827" y="942" font-size="10px" fill="#000" stroke="#000" stroke-width="0.1" font-family="Liberation Sans, sans-serif" textLength="51.0" lengthAdjust="spacingAndGlyphs">4 Nov 12:00</text>
<text x="891" y="942" font-size="10px" fill="#000" stroke="#000" stroke-width="0.1" font-family="Liberation Sans, sans-serif" textLength="51.0" lengthAdjust="spacingAndGlyphs">5 Nov 20:00</text>
<text x="955" y="942" font-size="10px" fill="#000" stroke="#000" stroke-width="0.1" font-family="Liberation Sans, sans-serif" textLength="51.0" lengthAdjust="spacingAndGlyphs">7 Nov 04:00</text>
<text x="1019" y="942" font-size="10px" fill="#000" stroke="#000" stroke-width="0.1" font-family="Liberation Sans, sans-serif" textLength="51.0" lengthAdjust="spacingAndGlyphs">8 Nov 12:00</text>
<text x="1083" y="942" font-size="10px" fill="#000" stroke="#000" stroke-width="0.1" font-family="Liberation Sans, sans-serif" textLength="55.5" lengthAdjust="spacingAndGlyphs">11 Nov 16:00</text>
<text x="1147" y="942" font-size="10px" fill="#000" stroke="#000" stroke-width="0.1" font-family="Liberation Sans, sans-serif" textLength="56.2" lengthAdjust="spacingAndGlyphs">13 Nov 00:00</text>
<text x="1211" y="942" font-size="10px" fill="#000" stroke="#000" stroke-width="0.1" font-family="Liberation Sans, sans-serif" textLength="56.2" lengthAdjust="spacingAndGlyphs">14 Nov 08:00</text>
<text x="1275" y="942" font-size="10px" fill="#000" stroke="#000" stroke-width="0.1" font-family="Liberation Sans, sans-serif" textLength="56.2" lengthAdjust="spacingAndGlyphs">15 Nov 16:00</text>
<text x="951.5" y="77.4" font-family="Liberation Serif, Noto Serif CJK SC, serif" font-weight="600" font-size="31px" textLength="164" lengthAdjust="spacingAndGlyphs" fill="#000">多空转折点</text>
<text x="950.5" y="76.4" font-family="Liberation Serif, Noto Serif CJK SC, serif" font-weight="600" font-size="31px" textLength="164" lengthAdjust="spacingAndGlyphs" fill="#00ff00">多空转折点</text>
<g shape-rendering="crispEdges"><rect x="1429" y="78" width="8" height="1" fill="#ff0000"/><rect x="1436" y="76" width="4" height="5" fill="#fff" stroke="none"/><rect x="1436" y="76" width="4" height="1" fill="#f00"/><rect x="1436" y="80" width="4" height="1" fill="#f00"/><rect x="1436" y="76" width="1" height="5" fill="#f00"/>
<rect x="1439" y="66" width="74" height="25" fill="#f00"/><rect x="1440" y="67" width="72" height="23" fill="#fff"/></g>
<text x="1440.3" y="86.8" font-size="22.6px" fill="#ff0000" font-family="Liberation Sans, sans-serif" textLength="72" lengthAdjust="spacingAndGlyphs">27899.0</text>
<g shape-rendering="crispEdges">
<rect x="0" y="48" width="219" height="64" fill="#fff"/>
<rect x="0" y="48" width="51" height="25" fill="url(#gs)"/>
<rect x="0" y="72" width="108" height="40" fill="url(#gs)"/>
<rect x="167" y="48" width="51" height="25" fill="url(#gs)"/>
<rect x="110" y="72" width="108" height="40" fill="url(#gs)"/>
<rect x="3" y="71" width="44" height="1" fill="#a80808"/><rect x="3" y="72" width="44" height="1" fill="#f06868"/>
<rect x="170" y="71" width="44" height="1" fill="#a80808"/><rect x="170" y="72" width="44" height="1" fill="#f06868"/>
<rect x="0" y="48" width="51" height="1" fill="#b81414"/><rect x="167" y="48" width="51" height="1" fill="#b81414"/>
<rect x="51" y="72" width="57" height="1" fill="#c42020"/><rect x="110" y="72" width="57" height="1" fill="#c42020"/>
<rect x="53" y="48" width="111" height="22" fill="#b8b8c0"/>
<rect x="54" y="49" width="109" height="20" fill="#fff"/>
<rect x="54" y="49" width="20" height="20" fill="url(#gb)"/>
<rect x="143" y="49" width="20" height="20" fill="url(#gb)"/>
<rect x="74" y="49" width="1" height="20" fill="#b8b8c0"/>
<rect x="142" y="49" width="1" height="20" fill="#b8b8c0"/>
</g>
<path d="M61 57 L66 57 L63.5 60.5 Z" fill="#4858b0"/>
<path d="M150 60.5 L155 60.5 L152.5 57 Z" fill="#4858b0"/>
<text x="139" y="63" text-anchor="end" font-size="12.5px" fill="#000" font-family="Liberation Sans, sans-serif">1.00</text>
<text x="11" y="64" font-size="12px" fill="#fff" font-family="Liberation Sans, sans-serif" textLength="26" lengthAdjust="spacingAndGlyphs">SELL</text>
<text x="179.5" y="64" font-size="12px" fill="#fff" font-family="Liberation Sans, sans-serif" textLength="23.5" lengthAdjust="spacingAndGlyphs">BUY</text>
<text x="15" y="103" font-size="12px" font-weight="bold" fill="#fff" font-family="Liberation Sans, sans-serif" textLength="34" lengthAdjust="spacingAndGlyphs">27947</text>
<text x="125" y="103" font-size="12px" font-weight="bold" fill="#fff" font-family="Liberation Sans, sans-serif" textLength="34.5" lengthAdjust="spacingAndGlyphs">27956</text>
<rect x="54.8" y="99.2" width="4" height="4" rx="1.2" fill="#fff"/>
<rect x="165.3" y="99.2" width="4" height="4" rx="1.2" fill="#fff"/>
<text x="61" y="103.3" font-size="34.5px" fill="#fff" stroke="url(#gs)" stroke-width="0.35" font-family="Liberation Sans, sans-serif" textLength="16" lengthAdjust="spacingAndGlyphs">5</text>
<text x="172" y="103.3" font-size="34.5px" fill="#fff" stroke="url(#gs)" stroke-width="0.35" font-family="Liberation Sans, sans-serif" textLength="16" lengthAdjust="spacingAndGlyphs">5</text>
<g shape-rendering="crispEdges">
<rect x="0" y="0" width="1662" height="23" fill="#f0f0f0"/>
<rect x="0" y="23" width="1662" height="1" fill="#e3e3e3"/>
<rect x="0" y="24" width="1662" height="1" fill="#a8a8a8"/>
<rect x="0" y="25" width="1662" height="1" fill="#6a6a6a"/>
<rect x="0" y="26" width="1662" height="2" fill="#fff"/>
<rect x="0" y="28" width="1616" height="1" fill="#000"/>
<rect x="212" y="0" width="1" height="24" fill="#a0a0a0"/>
<rect x="213" y="0" width="1" height="24" fill="#fff"/>
<rect x="216" y="2" width="3" height="1" fill="#a0a0a0"/>
<rect x="216" y="4" width="3" height="1" fill="#a0a0a0"/>
<rect x="216" y="6" width="3" height="1" fill="#a0a0a0"/>
<rect x="216" y="8" width="3" height="1" fill="#a0a0a0"/>
<rect x="216" y="10" width="3" height="1" fill="#a0a0a0"/>
<rect x="216" y="12" width="3" height="1" fill="#a0a0a0"/>
<rect x="216" y="14" width="3" height="1" fill="#a0a0a0"/>
<rect x="216" y="16" width="3" height="1" fill="#a0a0a0"/>
<rect x="216" y="18" width="3" height="1" fill="#a0a0a0"/>
<rect x="216" y="20" width="3" height="1" fill="#a0a0a0"/>
<rect x="250" y="0" width="25" height="22" fill="#f8f8f8"/>
<rect x="250" y="0" width="25" height="1" fill="#a0a0a0"/>
<rect x="250" y="0" width="1" height="22" fill="#a0a0a0"/>
<rect x="250" y="22" width="26" height="1" fill="#fff"/>
<rect x="275" y="0" width="1" height="22" fill="#fff"/>
<rect x="307" y="1" width="1" height="21" fill="#a0a0a0"/>
<rect x="308" y="1" width="1" height="21" fill="#fff"/>
<rect x="397" y="1" width="1" height="21" fill="#a0a0a0"/>
<rect x="398" y="1" width="1" height="21" fill="#fff"/>
<rect x="402" y="0" width="25" height="22" fill="#f8f8f8"/>
<rect x="402" y="0" width="25" height="1" fill="#a0a0a0"/>
<rect x="402" y="0" width="1" height="22" fill="#a0a0a0"/>
<rect x="402" y="22" width="26" height="1" fill="#fff"/>
<rect x="427" y="0" width="1" height="22" fill="#fff"/>
<rect x="430" y="0" width="25" height="22" fill="#f8f8f8"/>
<rect x="430" y="0" width="25" height="1" fill="#a0a0a0"/>
<rect x="430" y="0" width="1" height="22" fill="#a0a0a0"/>
<rect x="430" y="22" width="26" height="1" fill="#fff"/>
<rect x="455" y="0" width="1" height="22" fill="#fff"/>
<rect x="459" y="1" width="1" height="21" fill="#a0a0a0"/>
<rect x="460" y="1" width="1" height="21" fill="#fff"/>
<rect x="580" y="0" width="1" height="24" fill="#a0a0a0"/>
<rect x="581" y="0" width="1" height="24" fill="#fff"/>
<rect x="584" y="2" width="3" height="1" fill="#a0a0a0"/>
<rect x="584" y="4" width="3" height="1" fill="#a0a0a0"/>
<rect x="584" y="6" width="3" height="1" fill="#a0a0a0"/>
<rect x="584" y="8" width="3" height="1" fill="#a0a0a0"/>
<rect x="584" y="10" width="3" height="1" fill="#a0a0a0"/>
<rect x="584" y="12" width="3" height="1" fill="#a0a0a0"/>
<rect x="584" y="14" width="3" height="1" fill="#a0a0a0"/>
<rect x="584" y="16" width="3" height="1" fill="#a0a0a0"/>
<rect x="584" y="18" width="3" height="1" fill="#a0a0a0"/>
<rect x="584" y="20" width="3" height="1" fill="#a0a0a0"/>
<rect x="590" y="0" width="25" height="22" fill="#f8f8f8"/>
<rect x="590" y="0" width="25" height="1" fill="#a0a0a0"/>
<rect x="590" y="0" width="1" height="22" fill="#a0a0a0"/>
<rect x="590" y="22" width="26" height="1" fill="#fff"/>
<rect x="615" y="0" width="1" height="22" fill="#fff"/>
<rect x="647" y="1" width="1" height="21" fill="#a0a0a0"/>
<rect x="648" y="1" width="1" height="21" fill="#fff"/>
<rect x="886" y="0" width="1" height="24" fill="#a0a0a0"/>
<rect x="887" y="0" width="1" height="24" fill="#fff"/>
<rect x="890" y="2" width="3" height="1" fill="#a0a0a0"/>
<rect x="890" y="4" width="3" height="1" fill="#a0a0a0"/>
<rect x="890" y="6" width="3" height="1" fill="#a0a0a0"/>
<rect x="890" y="8" width="3" height="1" fill="#a0a0a0"/>
<rect x="890" y="10" width="3" height="1" fill="#a0a0a0"/>
<rect x="890" y="12" width="3" height="1" fill="#a0a0a0"/>
<rect x="890" y="14" width="3" height="1" fill="#a0a0a0"/>
<rect x="890" y="16" width="3" height="1" fill="#a0a0a0"/>
<rect x="890" y="18" width="3" height="1" fill="#a0a0a0"/>
<rect x="890" y="20" width="3" height="1" fill="#a0a0a0"/>
<rect x="1036" y="0" width="25" height="22" fill="#f8f8f8"/>
<rect x="1036" y="0" width="25" height="1" fill="#a0a0a0"/>
<rect x="1036" y="0" width="1" height="22" fill="#a0a0a0"/>
<rect x="1036" y="22" width="26" height="1" fill="#fff"/>
<rect x="1061" y="0" width="1" height="22" fill="#fff"/>
<rect x="1147" y="0" width="1" height="24" fill="#a0a0a0"/>
<rect x="1148" y="0" width="1" height="24" fill="#fff"/>
<rect x="0" y="14" width="2" height="4" fill="#10b010"/>
</g>
<text x="4.6" y="16" font-size="12px" font-weight="500" fill="#000" font-family="Liberation Sans, Noto Sans CJK SC, sans-serif" textLength="37" lengthAdjust="spacingAndGlyphs">新订单</text>
<text x="157.4" y="16" font-size="12px" font-weight="500" fill="#000" font-family="Liberation Sans, Noto Sans CJK SC, sans-serif" textLength="47.4" lengthAdjust="spacingAndGlyphs">自动交易</text>
<path d="M60.8 19.7 L68.9 14.4 L68.6 12.6 L60.6 18 Z" fill="#ece4b4" stroke="#a86c0c" stroke-width="0.8"/>
<path d="M58.4 5.1 L68.5 12.5 L60.8 19.2 L53.1 13.8 L57.1 9.2 Z" fill="url(#gold)" stroke="#a86c0c" stroke-width="0.9" stroke-linejoin="round"/>
<path d="M54.2 14 L60.8 18.4" stroke="#fbe88a" stroke-width="1.3" fill="none"/>
<path d="M83 4.4 L92 4.1 L94.2 6 L94.2 14 L86.8 14.5 L83 13 Z" fill="#38acf8"/>
<path d="M83 4.4 L86.8 6.2 L86.8 14.5 L83 13 Z" fill="#0a92f4"/><path d="M83 4.4 L92 4.1 L94.2 6 L86.8 6.2 Z" fill="#1e7ee0"/>
<path d="M86.8 6.2 L86.8 14" stroke="#d8f0ff" stroke-width="0.7" fill="none"/><rect x="88.2" y="8.3" width="4.8" height="1.4" fill="#d0ecff"/><rect x="88.2" y="10.8" width="4.8" height="0.8" fill="#1c88e8"/>
<path d="M83.6 19.4 A3.3 3.3 0 0 1 83.4 13.4 A3.9 3.9 0 0 1 90.4 12.9 A3.1 3.1 0 0 1 95 14.7 A2.5 2.5 0 0 1 94.4 19.4 Z" fill="url(#gcloud)" stroke="#4a6cac" stroke-width="1"/>
<path d="M83.6 19.5 L94.4 19.5" stroke="#3c5ea4" stroke-width="1.1" fill="none"/>
<circle cx="117" cy="12" r="7.6" fill="#eef2f6"/>
<path d="M117 12 L124.6 11 A7.6 7.6 0 0 1 117 19.6 Z" fill="url(#gsig)"/>
<g fill="none" stroke-width="1.1"><path d="M117 4.4 A7.6 7.6 0 0 0 117 19.6" stroke="#5078d8" opacity="0.75"/><path d="M117 7.2 A4.8 4.8 0 0 0 117 16.8" stroke="#4a70d4" opacity="0.7"/><path d="M117 4.4 A7.6 7.6 0 0 1 124.6 12" stroke="#9cc4ac" opacity="0.9"/><path d="M117 7.2 A4.8 4.8 0 0 1 121.8 12" stroke="#a8c8c0" opacity="0.8"/><path d="M124.6 11 A7.6 7.6 0 0 1 119 19.3" stroke="#3a8a58" opacity="0.8"/></g>
<circle cx="116.8" cy="11.8" r="1.9" fill="#2a58d4"/><rect x="116.7" y="12" width="1.4" height="7.8" fill="#1aa81a"/>
<path d="M136.8 11 L151.2 10.6 L151.6 12.4 L146.4 19.8 L143.2 19.6 L136.8 12.6 Z" fill="url(#gface)" stroke="#c89814" stroke-width="0.7"/>
<ellipse cx="144.2" cy="9.2" rx="7.9" ry="2.9" fill="#4aa4dc" stroke="#2284b4" stroke-width="0.8"/><path d="M140.6 8.6 C140.8 3.4 147.8 3.4 148 8.6 C146 10 142.6 10 140.6 8.6 Z" fill="#74bcec" stroke="#2284b4" stroke-width="0.6"/>
<circle cx="148.5" cy="15.8" r="4.3" fill="#e22a0c"/><circle cx="148.5" cy="15.8" r="4.3" fill="none" stroke="#b81c08" stroke-width="0.6"/><rect x="146.9" y="14.2" width="3.2" height="3.2" fill="#fff"/>
<g stroke="#505050" stroke-width="1" fill="#505050" shape-rendering="crispEdges"><line x1="230.5" y1="7" x2="230.5" y2="20"/><line x1="227" y1="17.5" x2="240" y2="17.5"/></g>
<path d="M228 8 L230.5 5.5 L233 8 Z M239 15.5 L242 17.5 L239 19.5 Z" fill="#505050"/>
<g fill="#109010" shape-rendering="crispEdges"><rect x="236" y="7" width="1.5" height="9"/><rect x="237" y="8" width="2.5" height="1.2"/><rect x="234" y="14" width="2.5" height="1.2"/></g>
<g stroke="#505050" stroke-width="1" fill="#505050" shape-rendering="crispEdges"><line x1="258.5" y1="7" x2="258.5" y2="20"/><line x1="255" y1="17.5" x2="268" y2="17.5"/></g>
<path d="M256 8 L258.5 5.5 L261 8 Z M267 15.5 L270 17.5 L267 19.5 Z" fill="#505050"/>
<g shape-rendering="crispEdges"><rect x="264" y="4" width="1" height="13" fill="#109010"/><rect x="262.5" y="6.5" width="4" height="8" fill="#40e050" stroke="#109010" stroke-width="1"/></g>
<g stroke="#505050" stroke-width="1" fill="#505050" shape-rendering="crispEdges"><line x1="286.5" y1="7" x2="286.5" y2="20"/><line x1="283" y1="17.5" x2="296" y2="17.5"/></g>
<path d="M284 8 L286.5 5.5 L289 8 Z M295 15.5 L298 17.5 L295 19.5 Z" fill="#505050"/>
<path d="M285 14.5 C288 12 289 9 291 9 C293 9 294 12.5 297 13" fill="none" stroke="#209820" stroke-width="1.3"/>
<line x1="326.5" y1="14" x2="331" y2="18.5" stroke="#b88810" stroke-width="3.2" stroke-linecap="round"/>
<line x1="326.8" y1="14.2" x2="330.7" y2="18.2" stroke="#f0d040" stroke-width="1.6" stroke-linecap="round"/>
<circle cx="322" cy="10" r="5.6" fill="#d4ecfa" stroke="#3880d8" stroke-width="1.2"/>
<rect x="319" y="9.2" width="6" height="1.8" fill="#3c88b0"/>
<rect x="321.1" y="7" width="1.8" height="6" fill="#3c88b0"/>
<line x1="354.5" y1="14" x2="359" y2="18.5" stroke="#b88810" stroke-width="3.2" stroke-linecap="round"/>
<line x1="354.8" y1="14.2" x2="358.7" y2="18.2" stroke="#f0d040" stroke-width="1.6" stroke-linecap="round"/>
<circle cx="350" cy="10" r="5.6" fill="#d4ecfa" stroke="#3880d8" stroke-width="1.2"/>
<rect x="347" y="9.2" width="6" height="1.8" fill="#3c88b0"/>
<g shape-rendering="crispEdges"><rect x="372" y="4" width="8" height="8" fill="#38a018"/><rect x="380" y="4" width="8" height="8" fill="#2860d8"/><rect x="372" y="12" width="8" height="8" fill="#2860d8"/><rect x="380" y="12" width="8" height="8" fill="#38a018"/>
<rect x="373" y="8" width="6" height="3" fill="#fff"/><rect x="373" y="5" width="1" height="1" fill="#fff"/>
<rect x="381" y="8" width="6" height="3" fill="#fff"/><rect x="381" y="5" width="1" height="1" fill="#fff"/>
<rect x="373" y="16" width="6" height="3" fill="#fff"/><rect x="373" y="13" width="1" height="1" fill="#fff"/>
<rect x="381" y="16" width="6" height="3" fill="#fff"/><rect x="381" y="13" width="1" height="1" fill="#fff"/>
</g>
<g stroke="#505050" stroke-width="1" fill="#505050" shape-rendering="crispEdges"><line x1="410.5" y1="7" x2="410.5" y2="20"/><line x1="407" y1="17.5" x2="420" y2="17.5"/></g>
<path d="M408 8 L410.5 5.5 L413 8 Z M419 15.5 L422 17.5 L419 19.5 Z" fill="#505050"/>
<path d="M415.5 8 L419.5 11.5 L415.5 15 Z" fill="#70e070" stroke="#109010" stroke-width="1"/>
<g stroke="#505050" stroke-width="1" fill="#505050" shape-rendering="crispEdges"><line x1="438.5" y1="7" x2="438.5" y2="20"/><line x1="435" y1="17.5" x2="448" y2="17.5"/></g>
<path d="M436 8 L438.5 5.5 L441 8 Z M447 15.5 L450 17.5 L447 19.5 Z" fill="#505050"/>
<rect x="444" y="6" width="1.3" height="10" fill="#1868b0" shape-rendering="crispEdges"/><path d="M446 11.5 L449.5 9 L449.5 14 Z" fill="#e85808"/><rect x="448" y="11" width="3" height="1" fill="#e85808"/>
<path d="M469.5 4.5 L477.5 4.5 L480.5 7.5 L480.5 17.5 L469.5 17.5 Z" fill="#fafafa" stroke="#909090" stroke-width="1"/><path d="M473.5 7 C471.5 8 471.5 13 473 14" stroke="#807050" fill="none" stroke-width="1"/>
<path d="M477.5 10.5 L481.5 10.5 L481.5 14 L485 14 L485 18 L481.5 18 L481.5 21.5 L477.5 21.5 L477.5 18 L474 18 L474 14 L477.5 14 Z" fill="#28c828" stroke="#108810" stroke-width="0.8"/>
<path d="M491 11 L496.4 11 L493.7 14 Z" fill="#000"/>
<circle cx="515" cy="12" r="6.7" fill="#fcfcff" stroke="url(#gclk)" stroke-width="2.7"/><path d="M514.3 8.2 L514.8 12.3 L517.8 13.2" stroke="#202020" fill="none" stroke-width="1.1"/><g fill="#b0b8c8"><rect x="514.5" y="15.6" width="1" height="1"/><rect x="510.6" y="11.6" width="1" height="1"/><rect x="518.6" y="11.6" width="1" height="1"/><rect x="512" y="14.4" width="1" height="1"/><rect x="517.4" y="14.6" width="1" height="1"/><rect x="512" y="9" width="1" height="1"/></g>
<path d="M530 11 L535.4 11 L532.7 14 Z" fill="#000"/>
<g shape-rendering="crispEdges"><rect x="546" y="5" width="16" height="14.5" fill="#3878d0"/><rect x="547" y="5.5" width="14" height="2" fill="#78b0f0"/><rect x="547" y="8" width="14" height="10.5" fill="#fff"/><rect x="547" y="13" width="14" height="1" fill="#3878d0"/></g>
<path d="M548 11.5 L551 11.5 L553 9.8 L556 10.6 L560 9.2" stroke="#a02808" stroke-width="1.3" fill="none"/><path d="M548 16.5 L551 16.5 L553 15.5 L555 16.6 L557.5 14.8 L560 16.8" stroke="#109020" stroke-width="1.3" fill="none"/>
<path d="M569 11 L574.4 11 L571.7 14 Z" fill="#000"/>
<path d="M598 5 L598 16 L600.6 13.8 L603.2 19.4 L605.2 18.4 L602.6 13 L606 12.6 Z" fill="#505050"/>
<g fill="#505050" shape-rendering="crispEdges"><rect x="630" y="5" width="1" height="6"/><rect x="630" y="14" width="1" height="6"/><rect x="623" y="12" width="6" height="1"/><rect x="632" y="12" width="6" height="1"/></g>
<g fill="#505050" shape-rendering="crispEdges"><rect x="664" y="6" width="1" height="13"/><rect x="687" y="12" width="12" height="1"/></g>
<line x1="715" y1="19" x2="727" y2="6.5" stroke="#505050" stroke-width="1.1"/>
<g stroke="#505050" stroke-width="1"><line x1="741" y1="14" x2="750" y2="6"/><line x1="742" y1="17" x2="753" y2="8"/><line x1="745" y1="19" x2="755" y2="10.5"/><line x1="744" y1="11" x2="744.5" y2="18"/><line x1="747" y1="9" x2="748" y2="16"/><line x1="751" y1="5" x2="752" y2="12"/></g>
<text x="751.6" y="20.8" font-size="7px" font-weight="bold" fill="#404040" font-family="Liberation Sans, sans-serif">E</text>
<g stroke="#505050" stroke-width="1" stroke-dasharray="1 1" shape-rendering="crispEdges"><line x1="770" y1="5.5" x2="783" y2="5.5"/><line x1="770" y1="8.5" x2="783" y2="8.5"/><line x1="770" y1="12.5" x2="783" y2="12.5"/><line x1="770" y1="16.5" x2="779" y2="16.5"/></g>
<text x="779.8" y="20.8" font-size="7px" font-weight="bold" fill="#404040" font-family="Liberation Sans, sans-serif">F</text>
<text x="800.6" y="17" font-size="11.6px" fill="#505050" stroke="#505050" stroke-width="0.3" font-family="Liberation Sans, sans-serif">A</text>
<rect x="827.5" y="6.5" width="11" height="12" fill="none" stroke="#505050" stroke-width="1" stroke-dasharray="1 1" shape-rendering="crispEdges"/>
<text x="829" y="17" font-size="11.5px" fill="#505050" stroke="#505050" stroke-width="0.3" font-family="Liberation Sans, sans-serif">T</text>
<path d="M854 10 L857.5 6 L861 10 Z M860.5 15 L868 15 L864.2 19 Z" fill="#505050"/><path d="M856.5 14 L858.5 16 L863 10.5" stroke="#505050" stroke-width="1.2" fill="none"/>
<path d="M875 11 L880.4 11 L877.7 14 Z" fill="#000"/>
<text x="901.5" y="15.8" font-size="9.8px" fill="#282828" stroke="#282828" stroke-width="0.12" font-family="Liberation Sans, sans-serif" textLength="12.5" lengthAdjust="spacingAndGlyphs">M1</text>
<text x="929.6" y="15.8" font-size="9.8px" fill="#282828" stroke="#282828" stroke-width="0.12" font-family="Liberation Sans, sans-serif" textLength="12.6" lengthAdjust="spacingAndGlyphs">M5</text>
<text x="955.5" y="15.8" font-size="9.8px" fill="#282828" stroke="#282828" stroke-width="0.12" font-family="Liberation Sans, sans-serif" textLength="17.6" lengthAdjust="spacingAndGlyphs">M15</text>
<text x="983.5" y="15.8" font-size="9.8px" fill="#282828" stroke="#282828" stroke-width="0.12" font-family="Liberation Sans, sans-serif" textLength="17.8" lengthAdjust="spacingAndGlyphs">M30</text>
<text x="1014.6" y="15.8" font-size="9.8px" fill="#282828" stroke="#282828" stroke-width="0.12" font-family="Liberation Sans, sans-serif" textLength="11.4" lengthAdjust="spacingAndGlyphs">H1</text>
<text x="1041.6" y="15.8" font-size="9.8px" fill="#282828" stroke="#282828" stroke-width="0.12" font-family="Liberation Sans, sans-serif" textLength="12.4" lengthAdjust="spacingAndGlyphs">H4</text>
<text x="1070.9" y="15.8" font-size="9.8px" fill="#282828" stroke="#282828" stroke-width="0.12" font-family="Liberation Sans, sans-serif" textLength="11.2" lengthAdjust="spacingAndGlyphs">D1</text>
<text x="1098" y="15.8" font-size="9.8px" fill="#282828" stroke="#282828" stroke-width="0.12" font-family="Liberation Sans, sans-serif" textLength="14" lengthAdjust="spacingAndGlyphs">W1</text>
<text x="1124.8" y="15.8" font-size="9.8px" fill="#282828" stroke="#282828" stroke-width="0.12" font-family="Liberation Sans, sans-serif" textLength="14.5" lengthAdjust="spacingAndGlyphs">MN</text>
<line x1="1614.2" y1="12.6" x2="1610" y2="16.8" stroke="#2a5cd8" stroke-width="2.6" stroke-linecap="round"/><circle cx="1617.6" cy="9.3" r="4" fill="#fff" stroke="#2a60dc" stroke-width="1.4"/>
<path d="M1651.6 12.6 L1654.2 15.6 L1654.6 12.2 Z" fill="#686868"/><ellipse cx="1650.2" cy="8.8" rx="6.4" ry="4.6" fill="url(#gchat)" stroke="#8a8a8a" stroke-width="1"/>
<path d="M1638 16.4 L1638.8 19.2 L1640.8 16.8 Z" fill="#686868"/><ellipse cx="1641.4" cy="13.3" rx="5" ry="3.9" fill="url(#gchat)" stroke="#8a8a8a" stroke-width="1"/>
</svg>
</body></html>
